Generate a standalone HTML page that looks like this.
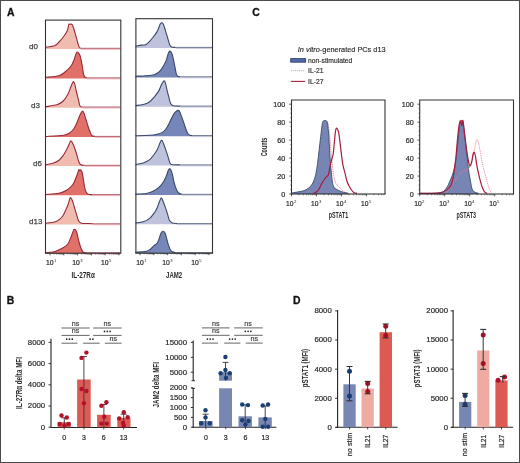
<!DOCTYPE html>
<html><head><meta charset="utf-8"><style>
html,body{margin:0;padding:0;background:#fff;}
svg{display:block;font-family:"Liberation Sans", sans-serif;will-change:transform;}
</style></head><body>
<svg width="520" height="463" viewBox="0 0 520 463">
<rect width="520" height="463" fill="#fff"/>
<text x="7" y="15.7" font-size="10.4" font-weight="bold" fill="#111" stroke="#111" stroke-width="0.3">A</text>
<text x="29" y="48.8" font-size="8" fill="#444" stroke="#444" stroke-width="0.25">d0</text>
<text x="31" y="107.7" font-size="8" fill="#444" stroke="#444" stroke-width="0.25">d3</text>
<text x="33" y="165.7" font-size="8" fill="#444" stroke="#444" stroke-width="0.25">d6</text>
<text x="29" y="224.3" font-size="8" fill="#444" stroke="#444" stroke-width="0.25">d13</text>
<path d="M45.5,47.25 C47,47 52.25,46.62 54.5,45.75 C56.75,44.87 57.5,43.5 59,42 C60.5,40.5 62.12,38.62 63.5,36.75 C64.87,34.87 66.37,32.75 67.25,30.75 C68.12,28.75 68.37,25.82 68.75,24.75 C69.12,23.67 69,24.37 69.5,24.3 C70,24.22 71.12,23.85 71.75,24.3 C72.37,24.75 72.62,25.3 73.25,27 C73.87,28.7 74.75,31.87 75.5,34.5 C76.25,37.12 77.12,40.62 77.75,42.75 C78.37,44.87 78.75,46.32 79.25,47.25 C79.75,48.17 80.5,48.12 80.75,48.3 L80.75,49 L45.5,49 Z" fill="#f0bcb0"/>
<line x1="80.75" y1="49.3" x2="120.5" y2="49.3" stroke="#f4b4c0" stroke-width="1"/>
<line x1="80.75" y1="48.3" x2="120.5" y2="48.3" stroke="#9a2a3a" stroke-width="1" stroke-opacity="0.75"/>
<path d="M45.5,47.25 C47,47 52.25,46.62 54.5,45.75 C56.75,44.87 57.5,43.5 59,42 C60.5,40.5 62.12,38.62 63.5,36.75 C64.87,34.87 66.37,32.75 67.25,30.75 C68.12,28.75 68.37,25.82 68.75,24.75 C69.12,23.67 69,24.37 69.5,24.3 C70,24.22 71.12,23.85 71.75,24.3 C72.37,24.75 72.62,25.3 73.25,27 C73.87,28.7 74.75,31.87 75.5,34.5 C76.25,37.12 77.12,40.62 77.75,42.75 C78.37,44.87 78.75,46.32 79.25,47.25 C79.75,48.17 80.5,48.12 80.75,48.3" fill="none" stroke="#9a2a3a" stroke-width="1.1" stroke-linejoin="round"/>
<path d="M45.5,77.25 C47.75,77 55.75,76.62 59,75.75 C62.25,74.87 63,73.62 65,72 C67,70.37 69.5,68 71,66 C72.5,64 73.12,62.12 74,60 C74.87,57.87 75.62,54.55 76.25,53.25 C76.87,51.95 77.12,51.82 77.75,52.2 C78.37,52.57 79.25,53.2 80,55.5 C80.75,57.8 81.62,62.75 82.25,66 C82.87,69.25 83.25,73.12 83.75,75 C84.25,76.87 84.75,76.76 85.25,77.25 C85.75,77.73 86.5,77.79 86.75,77.9 L86.75,78.6 L45.5,78.6 Z" fill="#e07068"/>
<line x1="86.75" y1="78.9" x2="120.5" y2="78.9" stroke="#f4b4c0" stroke-width="1"/>
<line x1="86.75" y1="77.9" x2="120.5" y2="77.9" stroke="#9a2a3a" stroke-width="1" stroke-opacity="0.75"/>
<path d="M45.5,77.25 C47.75,77 55.75,76.62 59,75.75 C62.25,74.87 63,73.62 65,72 C67,70.37 69.5,68 71,66 C72.5,64 73.12,62.12 74,60 C74.87,57.87 75.62,54.55 76.25,53.25 C76.87,51.95 77.12,51.82 77.75,52.2 C78.37,52.57 79.25,53.2 80,55.5 C80.75,57.8 81.62,62.75 82.25,66 C82.87,69.25 83.25,73.12 83.75,75 C84.25,76.87 84.75,76.76 85.25,77.25 C85.75,77.73 86.5,77.79 86.75,77.9" fill="none" stroke="#9a2a3a" stroke-width="1.1" stroke-linejoin="round"/>
<path d="M45.5,106.75 C47.5,106.37 54.5,105.5 57.5,104.5 C60.5,103.5 61.75,102.5 63.5,100.75 C65.25,99 66.75,96.37 68,94 C69.25,91.62 70.12,88.55 71,86.5 C71.87,84.45 72.62,82.07 73.25,81.7 C73.87,81.32 74.25,82.7 74.75,84.25 C75.25,85.8 75.62,88.37 76.25,91 C76.87,93.62 77.87,97.5 78.5,100 C79.12,102.5 79.37,104.83 80,106 C80.62,107.17 81.87,106.83 82.25,107 L82.25,107.7 L45.5,107.7 Z" fill="#f0bcb0"/>
<line x1="82.25" y1="108" x2="120.5" y2="108" stroke="#f4b4c0" stroke-width="1"/>
<line x1="82.25" y1="107" x2="120.5" y2="107" stroke="#9a2a3a" stroke-width="1" stroke-opacity="0.75"/>
<path d="M45.5,106.75 C47.5,106.37 54.5,105.5 57.5,104.5 C60.5,103.5 61.75,102.5 63.5,100.75 C65.25,99 66.75,96.37 68,94 C69.25,91.62 70.12,88.55 71,86.5 C71.87,84.45 72.62,82.07 73.25,81.7 C73.87,81.32 74.25,82.7 74.75,84.25 C75.25,85.8 75.62,88.37 76.25,91 C76.87,93.62 77.87,97.5 78.5,100 C79.12,102.5 79.37,104.83 80,106 C80.62,107.17 81.87,106.83 82.25,107" fill="none" stroke="#9a2a3a" stroke-width="1.1" stroke-linejoin="round"/>
<path d="M45.5,136.45 C48.5,136.25 59.5,135.82 63.5,135.25 C67.5,134.67 67.75,134.12 69.5,133 C71.25,131.87 72.75,130.25 74,128.5 C75.25,126.75 76,124.75 77,122.5 C78,120.25 79.12,116.87 80,115 C80.87,113.12 81.62,111.62 82.25,111.25 C82.87,110.87 83.12,111.37 83.75,112.75 C84.37,114.12 85.25,117.12 86,119.5 C86.75,121.87 87.5,124.75 88.25,127 C89,129.25 89.87,131.55 90.5,133 C91.12,134.45 91.25,135.13 92,135.7 C92.75,136.26 94.5,136.28 95,136.4 L95,137.1 L45.5,137.1 Z" fill="#e07068"/>
<line x1="95" y1="137.4" x2="120.5" y2="137.4" stroke="#f4b4c0" stroke-width="1"/>
<line x1="95" y1="136.4" x2="120.5" y2="136.4" stroke="#9a2a3a" stroke-width="1" stroke-opacity="0.75"/>
<path d="M45.5,136.45 C48.5,136.25 59.5,135.82 63.5,135.25 C67.5,134.67 67.75,134.12 69.5,133 C71.25,131.87 72.75,130.25 74,128.5 C75.25,126.75 76,124.75 77,122.5 C78,120.25 79.12,116.87 80,115 C80.87,113.12 81.62,111.62 82.25,111.25 C82.87,110.87 83.12,111.37 83.75,112.75 C84.37,114.12 85.25,117.12 86,119.5 C86.75,121.87 87.5,124.75 88.25,127 C89,129.25 89.87,131.55 90.5,133 C91.12,134.45 91.25,135.13 92,135.7 C92.75,136.26 94.5,136.28 95,136.4" fill="none" stroke="#9a2a3a" stroke-width="1.1" stroke-linejoin="round"/>
<path d="M45.5,164.75 C46.75,164.5 50.75,164 53,163.25 C55.25,162.5 57.25,161.62 59,160.25 C60.75,158.87 62.25,156.75 63.5,155 C64.75,153.25 65.62,151.37 66.5,149.75 C67.37,148.12 68.12,146.62 68.75,145.25 C69.37,143.87 69.82,142.17 70.25,141.5 C70.67,140.82 70.8,140.7 71.3,141.2 C71.8,141.7 72.55,142.95 73.25,144.5 C73.95,146.05 74.82,148.5 75.5,150.5 C76.17,152.5 76.75,154.62 77.3,156.5 C77.85,158.37 78.22,160.37 78.8,161.75 C79.37,163.12 79.8,164.16 80.75,164.75 C81.7,165.34 83.87,165.21 84.5,165.3 L84.5,166 L45.5,166 Z" fill="#f0bcb0"/>
<line x1="84.5" y1="166.3" x2="120.5" y2="166.3" stroke="#f4b4c0" stroke-width="1"/>
<line x1="84.5" y1="165.3" x2="120.5" y2="165.3" stroke="#9a2a3a" stroke-width="1" stroke-opacity="0.75"/>
<path d="M45.5,164.75 C46.75,164.5 50.75,164 53,163.25 C55.25,162.5 57.25,161.62 59,160.25 C60.75,158.87 62.25,156.75 63.5,155 C64.75,153.25 65.62,151.37 66.5,149.75 C67.37,148.12 68.12,146.62 68.75,145.25 C69.37,143.87 69.82,142.17 70.25,141.5 C70.67,140.82 70.8,140.7 71.3,141.2 C71.8,141.7 72.55,142.95 73.25,144.5 C73.95,146.05 74.82,148.5 75.5,150.5 C76.17,152.5 76.75,154.62 77.3,156.5 C77.85,158.37 78.22,160.37 78.8,161.75 C79.37,163.12 79.8,164.16 80.75,164.75 C81.7,165.34 83.87,165.21 84.5,165.3" fill="none" stroke="#9a2a3a" stroke-width="1.1" stroke-linejoin="round"/>
<path d="M45.5,194.45 C47.75,194.25 55.5,193.95 59,193.25 C62.5,192.55 64.25,191.62 66.5,190.25 C68.75,188.87 71,186.87 72.5,185 C74,183.12 74.62,181 75.5,179 C76.37,177 77.2,174.55 77.75,173 C78.3,171.45 78.47,170.07 78.8,169.7 C79.12,169.32 79.37,170.7 79.7,170.75 C80.02,170.8 80.32,169.62 80.75,170 C81.17,170.37 81.82,171.5 82.25,173 C82.67,174.5 82.92,176.75 83.3,179 C83.67,181.25 84.05,184.37 84.5,186.5 C84.95,188.62 85.37,190.45 86,191.75 C86.62,193.05 87.25,193.82 88.25,194.3 C89.25,194.77 91.37,194.55 92,194.6 L92,195.3 L45.5,195.3 Z" fill="#e07068"/>
<line x1="92" y1="195.6" x2="120.5" y2="195.6" stroke="#f4b4c0" stroke-width="1"/>
<line x1="92" y1="194.6" x2="120.5" y2="194.6" stroke="#9a2a3a" stroke-width="1" stroke-opacity="0.75"/>
<path d="M45.5,194.45 C47.75,194.25 55.5,193.95 59,193.25 C62.5,192.55 64.25,191.62 66.5,190.25 C68.75,188.87 71,186.87 72.5,185 C74,183.12 74.62,181 75.5,179 C76.37,177 77.2,174.55 77.75,173 C78.3,171.45 78.47,170.07 78.8,169.7 C79.12,169.32 79.37,170.7 79.7,170.75 C80.02,170.8 80.32,169.62 80.75,170 C81.17,170.37 81.82,171.5 82.25,173 C82.67,174.5 82.92,176.75 83.3,179 C83.67,181.25 84.05,184.37 84.5,186.5 C84.95,188.62 85.37,190.45 86,191.75 C86.62,193.05 87.25,193.82 88.25,194.3 C89.25,194.77 91.37,194.55 92,194.6" fill="none" stroke="#9a2a3a" stroke-width="1.1" stroke-linejoin="round"/>
<path d="M45.5,223.2 C47,223 52.25,222.57 54.5,222 C56.75,221.42 57.62,220.75 59,219.75 C60.37,218.75 61.62,217.62 62.75,216 C63.87,214.37 64.87,211.87 65.75,210 C66.62,208.12 67.32,206.62 68,204.75 C68.67,202.87 69.35,199.92 69.8,198.75 C70.25,197.57 70.25,197.32 70.7,197.7 C71.15,198.07 71.82,199.2 72.5,201 C73.17,202.8 74,206 74.75,208.5 C75.5,211 76.32,213.87 77,216 C77.67,218.12 78.05,220.05 78.8,221.25 C79.55,222.45 79.8,222.82 81.5,223.2 C83.2,223.57 87,223.4 89,223.5 C91,223.6 92.75,223.75 93.5,223.8 L93.5,224.5 L45.5,224.5 Z" fill="#f0bcb0"/>
<line x1="93.5" y1="224.8" x2="120.5" y2="224.8" stroke="#f4b4c0" stroke-width="1"/>
<line x1="93.5" y1="223.8" x2="120.5" y2="223.8" stroke="#9a2a3a" stroke-width="1" stroke-opacity="0.75"/>
<path d="M45.5,223.2 C47,223 52.25,222.57 54.5,222 C56.75,221.42 57.62,220.75 59,219.75 C60.37,218.75 61.62,217.62 62.75,216 C63.87,214.37 64.87,211.87 65.75,210 C66.62,208.12 67.32,206.62 68,204.75 C68.67,202.87 69.35,199.92 69.8,198.75 C70.25,197.57 70.25,197.32 70.7,197.7 C71.15,198.07 71.82,199.2 72.5,201 C73.17,202.8 74,206 74.75,208.5 C75.5,211 76.32,213.87 77,216 C77.67,218.12 78.05,220.05 78.8,221.25 C79.55,222.45 79.8,222.82 81.5,223.2 C83.2,223.57 87,223.4 89,223.5 C91,223.6 92.75,223.75 93.5,223.8" fill="none" stroke="#9a2a3a" stroke-width="1.1" stroke-linejoin="round"/>
<path d="M45.5,252.75 C46.75,252.62 50.75,252.5 53,252 C55.25,251.5 57.25,250.5 59,249.75 C60.75,249 62,248.5 63.5,247.5 C65,246.5 66.75,245.5 68,243.75 C69.25,242 70.12,239.12 71,237 C71.87,234.87 72.75,232.25 73.25,231 C73.75,229.75 73.62,229.7 74,229.5 C74.37,229.3 75,229.17 75.5,229.8 C76,230.42 76.5,231.55 77,233.25 C77.5,234.95 77.87,237.62 78.5,240 C79.12,242.37 80,245.5 80.75,247.5 C81.5,249.5 82.12,251.11 83,252 C83.87,252.88 85.5,252.67 86,252.8 L86,253.5 L45.5,253.5 Z" fill="#e07068"/>
<line x1="86" y1="253.8" x2="120.5" y2="253.8" stroke="#f4b4c0" stroke-width="1"/>
<line x1="86" y1="252.8" x2="120.5" y2="252.8" stroke="#9a2a3a" stroke-width="1" stroke-opacity="0.75"/>
<path d="M45.5,252.75 C46.75,252.62 50.75,252.5 53,252 C55.25,251.5 57.25,250.5 59,249.75 C60.75,249 62,248.5 63.5,247.5 C65,246.5 66.75,245.5 68,243.75 C69.25,242 70.12,239.12 71,237 C71.87,234.87 72.75,232.25 73.25,231 C73.75,229.75 73.62,229.7 74,229.5 C74.37,229.3 75,229.17 75.5,229.8 C76,230.42 76.5,231.55 77,233.25 C77.5,234.95 77.87,237.62 78.5,240 C79.12,242.37 80,245.5 80.75,247.5 C81.5,249.5 82.12,251.11 83,252 C83.87,252.88 85.5,252.67 86,252.8" fill="none" stroke="#9a2a3a" stroke-width="1.1" stroke-linejoin="round"/>
<path d="M135.5,46.23 C136.53,46.05 140.02,45.41 141.69,45.15 C143.37,44.9 144.26,45.28 145.54,44.69 C146.82,44.1 148.1,42.9 149.38,41.62 C150.67,40.33 151.95,38.67 153.23,37 C154.51,35.33 156.05,33.41 157.08,31.62 C158.1,29.82 158.82,27.59 159.38,26.23 C159.95,24.87 160.03,24.03 160.46,23.46 C160.9,22.9 161.49,22.64 162,22.85 C162.51,23.05 162.95,23.36 163.54,24.69 C164.13,26.03 164.82,28.54 165.54,30.85 C166.26,33.15 167.15,36.23 167.85,38.54 C168.54,40.85 169.05,43.28 169.69,44.69 C170.33,46.1 170.72,46.55 171.69,47 C172.67,47.45 174.9,47.33 175.54,47.4 L175.54,48.1 L135.5,48.1 Z" fill="#bfc2dc"/>
<line x1="175.54" y1="48.4" x2="212.5" y2="48.4" stroke="#c8cce0" stroke-width="1"/>
<line x1="175.54" y1="47.4" x2="212.5" y2="47.4" stroke="#3a4868" stroke-width="1" stroke-opacity="0.75"/>
<path d="M135.5,46.23 C136.53,46.05 140.02,45.41 141.69,45.15 C143.37,44.9 144.26,45.28 145.54,44.69 C146.82,44.1 148.1,42.9 149.38,41.62 C150.67,40.33 151.95,38.67 153.23,37 C154.51,35.33 156.05,33.41 157.08,31.62 C158.1,29.82 158.82,27.59 159.38,26.23 C159.95,24.87 160.03,24.03 160.46,23.46 C160.9,22.9 161.49,22.64 162,22.85 C162.51,23.05 162.95,23.36 163.54,24.69 C164.13,26.03 164.82,28.54 165.54,30.85 C166.26,33.15 167.15,36.23 167.85,38.54 C168.54,40.85 169.05,43.28 169.69,44.69 C170.33,46.1 170.72,46.55 171.69,47 C172.67,47.45 174.9,47.33 175.54,47.4" fill="none" stroke="#3a4868" stroke-width="1.1" stroke-linejoin="round"/>
<path d="M135.5,76.23 C137.3,76.15 143.22,76.03 146.31,75.77 C149.39,75.51 151.82,75.38 154,74.69 C156.18,74 157.85,73.03 159.38,71.62 C160.92,70.21 162.08,68.15 163.23,66.23 C164.38,64.31 165.49,62.13 166.31,60.08 C167.13,58.03 167.59,55.41 168.15,53.92 C168.72,52.44 169.1,51.28 169.69,51.15 C170.28,51.03 171.1,51.92 171.69,53.15 C172.28,54.38 172.72,56.36 173.23,58.54 C173.74,60.72 174.26,63.67 174.77,66.23 C175.28,68.79 175.79,72.26 176.31,73.92 C176.82,75.59 177.21,75.75 177.85,76.23 C178.49,76.71 179.77,76.71 180.15,76.8 L180.15,77.5 L135.5,77.5 Z" fill="#7686b8"/>
<line x1="180.15" y1="77.8" x2="212.5" y2="77.8" stroke="#c8cce0" stroke-width="1"/>
<line x1="180.15" y1="76.8" x2="212.5" y2="76.8" stroke="#3a4868" stroke-width="1" stroke-opacity="0.75"/>
<path d="M135.5,76.23 C137.3,76.15 143.22,76.03 146.31,75.77 C149.39,75.51 151.82,75.38 154,74.69 C156.18,74 157.85,73.03 159.38,71.62 C160.92,70.21 162.08,68.15 163.23,66.23 C164.38,64.31 165.49,62.13 166.31,60.08 C167.13,58.03 167.59,55.41 168.15,53.92 C168.72,52.44 169.1,51.28 169.69,51.15 C170.28,51.03 171.1,51.92 171.69,53.15 C172.28,54.38 172.72,56.36 173.23,58.54 C173.74,60.72 174.26,63.67 174.77,66.23 C175.28,68.79 175.79,72.26 176.31,73.92 C176.82,75.59 177.21,75.75 177.85,76.23 C178.49,76.71 179.77,76.71 180.15,76.8" fill="none" stroke="#3a4868" stroke-width="1.1" stroke-linejoin="round"/>
<path d="M135.5,105.46 C136.79,105.31 140.92,105.13 143.23,104.54 C145.54,103.95 147.59,103.13 149.38,101.92 C151.18,100.72 152.46,99.1 154,97.31 C155.54,95.51 157.33,93.33 158.62,91.15 C159.9,88.97 160.77,85.95 161.69,84.23 C162.62,82.51 163.51,80.97 164.15,80.85 C164.79,80.72 165.05,81.87 165.54,83.46 C166.03,85.05 166.49,87.95 167.08,90.38 C167.67,92.82 168.49,95.9 169.08,98.08 C169.67,100.26 169.92,102.18 170.62,103.46 C171.31,104.74 171.64,105.33 173.23,105.77 C174.82,106.21 179,106.04 180.15,106.1 L180.15,106.8 L135.5,106.8 Z" fill="#bfc2dc"/>
<line x1="180.15" y1="107.1" x2="212.5" y2="107.1" stroke="#c8cce0" stroke-width="1"/>
<line x1="180.15" y1="106.1" x2="212.5" y2="106.1" stroke="#3a4868" stroke-width="1" stroke-opacity="0.75"/>
<path d="M135.5,105.46 C136.79,105.31 140.92,105.13 143.23,104.54 C145.54,103.95 147.59,103.13 149.38,101.92 C151.18,100.72 152.46,99.1 154,97.31 C155.54,95.51 157.33,93.33 158.62,91.15 C159.9,88.97 160.77,85.95 161.69,84.23 C162.62,82.51 163.51,80.97 164.15,80.85 C164.79,80.72 165.05,81.87 165.54,83.46 C166.03,85.05 166.49,87.95 167.08,90.38 C167.67,92.82 168.49,95.9 169.08,98.08 C169.67,100.26 169.92,102.18 170.62,103.46 C171.31,104.74 171.64,105.33 173.23,105.77 C174.82,106.21 179,106.04 180.15,106.1" fill="none" stroke="#3a4868" stroke-width="1.1" stroke-linejoin="round"/>
<path d="M135.5,135.77 C137.81,135.69 145.79,135.56 149.38,135.31 C152.98,135.05 154.77,134.79 157.08,134.23 C159.38,133.67 161.56,133.08 163.23,131.92 C164.9,130.77 165.79,129.36 167.08,127.31 C168.36,125.26 169.82,121.79 170.92,119.62 C172.03,117.44 172.92,115.51 173.69,114.23 C174.46,112.95 174.85,112.56 175.54,111.92 C176.23,111.28 177.21,110.51 177.85,110.38 C178.49,110.26 178.87,110.38 179.38,111.15 C179.9,111.92 180.28,113.33 180.92,115 C181.56,116.67 182.46,118.97 183.23,121.15 C184,123.33 184.77,126.03 185.54,128.08 C186.31,130.13 187.08,132.26 187.85,133.46 C188.62,134.67 189.38,134.95 190.15,135.31 C190.92,135.66 192.08,135.55 192.46,135.6 L192.46,136.3 L135.5,136.3 Z" fill="#7686b8"/>
<line x1="192.46" y1="136.6" x2="212.5" y2="136.6" stroke="#c8cce0" stroke-width="1"/>
<line x1="192.46" y1="135.6" x2="212.5" y2="135.6" stroke="#3a4868" stroke-width="1" stroke-opacity="0.75"/>
<path d="M135.5,135.77 C137.81,135.69 145.79,135.56 149.38,135.31 C152.98,135.05 154.77,134.79 157.08,134.23 C159.38,133.67 161.56,133.08 163.23,131.92 C164.9,130.77 165.79,129.36 167.08,127.31 C168.36,125.26 169.82,121.79 170.92,119.62 C172.03,117.44 172.92,115.51 173.69,114.23 C174.46,112.95 174.85,112.56 175.54,111.92 C176.23,111.28 177.21,110.51 177.85,110.38 C178.49,110.26 178.87,110.38 179.38,111.15 C179.9,111.92 180.28,113.33 180.92,115 C181.56,116.67 182.46,118.97 183.23,121.15 C184,123.33 184.77,126.03 185.54,128.08 C186.31,130.13 187.08,132.26 187.85,133.46 C188.62,134.67 189.38,134.95 190.15,135.31 C190.92,135.66 192.08,135.55 192.46,135.6" fill="none" stroke="#3a4868" stroke-width="1.1" stroke-linejoin="round"/>
<path d="M135.5,164.54 C136.79,164.28 140.92,163.77 143.23,163 C145.54,162.23 147.59,161.33 149.38,159.92 C151.18,158.51 152.72,156.21 154,154.54 C155.28,152.87 156.18,151.59 157.08,149.92 C157.97,148.26 158.79,145.95 159.38,144.54 C159.97,143.13 160.18,142.15 160.62,141.46 C161.05,140.77 161.51,140 162,140.38 C162.49,140.77 162.95,142.31 163.54,143.77 C164.13,145.23 164.82,147.1 165.54,149.15 C166.26,151.21 167.15,153.9 167.85,156.08 C168.54,158.26 169.05,160.82 169.69,162.23 C170.33,163.64 169.95,164.09 171.69,164.54 C173.44,164.98 178.74,164.84 180.15,164.9 L180.15,165.6 L135.5,165.6 Z" fill="#bfc2dc"/>
<line x1="180.15" y1="165.9" x2="212.5" y2="165.9" stroke="#c8cce0" stroke-width="1"/>
<line x1="180.15" y1="164.9" x2="212.5" y2="164.9" stroke="#3a4868" stroke-width="1" stroke-opacity="0.75"/>
<path d="M135.5,164.54 C136.79,164.28 140.92,163.77 143.23,163 C145.54,162.23 147.59,161.33 149.38,159.92 C151.18,158.51 152.72,156.21 154,154.54 C155.28,152.87 156.18,151.59 157.08,149.92 C157.97,148.26 158.79,145.95 159.38,144.54 C159.97,143.13 160.18,142.15 160.62,141.46 C161.05,140.77 161.51,140 162,140.38 C162.49,140.77 162.95,142.31 163.54,143.77 C164.13,145.23 164.82,147.1 165.54,149.15 C166.26,151.21 167.15,153.9 167.85,156.08 C168.54,158.26 169.05,160.82 169.69,162.23 C170.33,163.64 169.95,164.09 171.69,164.54 C173.44,164.98 178.74,164.84 180.15,164.9" fill="none" stroke="#3a4868" stroke-width="1.1" stroke-linejoin="round"/>
<path d="M135.5,194.08 C137.3,193.97 143.48,193.9 146.31,193.46 C149.13,193.03 150.41,192.44 152.46,191.46 C154.51,190.49 156.82,189.15 158.62,187.62 C160.41,186.08 161.95,184.15 163.23,182.23 C164.51,180.31 165.49,178 166.31,176.08 C167.13,174.15 167.64,171.92 168.15,170.69 C168.67,169.46 168.92,168.82 169.38,168.69 C169.85,168.56 170.41,168.95 170.92,169.92 C171.44,170.9 171.95,172.49 172.46,174.54 C172.97,176.59 173.36,179.79 174,182.23 C174.64,184.67 175.54,187.36 176.31,189.15 C177.08,190.95 177.72,192.14 178.62,193 C179.51,193.86 181.18,194.08 181.69,194.3 L181.69,195 L135.5,195 Z" fill="#7686b8"/>
<line x1="181.69" y1="195.3" x2="212.5" y2="195.3" stroke="#c8cce0" stroke-width="1"/>
<line x1="181.69" y1="194.3" x2="212.5" y2="194.3" stroke="#3a4868" stroke-width="1" stroke-opacity="0.75"/>
<path d="M135.5,194.08 C137.3,193.97 143.48,193.9 146.31,193.46 C149.13,193.03 150.41,192.44 152.46,191.46 C154.51,190.49 156.82,189.15 158.62,187.62 C160.41,186.08 161.95,184.15 163.23,182.23 C164.51,180.31 165.49,178 166.31,176.08 C167.13,174.15 167.64,171.92 168.15,170.69 C168.67,169.46 168.92,168.82 169.38,168.69 C169.85,168.56 170.41,168.95 170.92,169.92 C171.44,170.9 171.95,172.49 172.46,174.54 C172.97,176.59 173.36,179.79 174,182.23 C174.64,184.67 175.54,187.36 176.31,189.15 C177.08,190.95 177.72,192.14 178.62,193 C179.51,193.86 181.18,194.08 181.69,194.3" fill="none" stroke="#3a4868" stroke-width="1.1" stroke-linejoin="round"/>
<path d="M135.5,223 C136.79,222.79 140.92,222.49 143.23,221.77 C145.54,221.05 147.59,220.1 149.38,218.69 C151.18,217.28 152.72,215.1 154,213.31 C155.28,211.51 156.18,209.85 157.08,207.92 C157.97,206 158.67,203.44 159.38,201.77 C160.1,200.1 160.74,197.92 161.38,197.92 C162.03,197.92 162.54,200.1 163.23,201.77 C163.92,203.44 164.82,205.87 165.54,207.92 C166.26,209.97 166.9,212.03 167.54,214.08 C168.18,216.13 168.56,218.74 169.38,220.23 C170.21,221.72 171.18,222.44 172.46,223 C173.74,223.56 176.31,223.5 177.08,223.6 L177.08,224.3 L135.5,224.3 Z" fill="#bfc2dc"/>
<line x1="177.08" y1="224.6" x2="212.5" y2="224.6" stroke="#c8cce0" stroke-width="1"/>
<line x1="177.08" y1="223.6" x2="212.5" y2="223.6" stroke="#3a4868" stroke-width="1" stroke-opacity="0.75"/>
<path d="M135.5,223 C136.79,222.79 140.92,222.49 143.23,221.77 C145.54,221.05 147.59,220.1 149.38,218.69 C151.18,217.28 152.72,215.1 154,213.31 C155.28,211.51 156.18,209.85 157.08,207.92 C157.97,206 158.67,203.44 159.38,201.77 C160.1,200.1 160.74,197.92 161.38,197.92 C162.03,197.92 162.54,200.1 163.23,201.77 C163.92,203.44 164.82,205.87 165.54,207.92 C166.26,209.97 166.9,212.03 167.54,214.08 C168.18,216.13 168.56,218.74 169.38,220.23 C170.21,221.72 171.18,222.44 172.46,223 C173.74,223.56 176.31,223.5 177.08,223.6" fill="none" stroke="#3a4868" stroke-width="1.1" stroke-linejoin="round"/>
<path d="M135.5,252.23 C137.3,252.08 143.74,251.9 146.31,251.31 C148.88,250.72 149.64,249.64 150.92,248.69 C152.21,247.74 152.97,246.51 154,245.62 C155.03,244.72 156.18,244.59 157.08,243.31 C157.97,242.03 158.74,239.59 159.38,237.92 C160.03,236.26 160.33,234.41 160.92,233.31 C161.51,232.21 162.28,231.44 162.92,231.31 C163.56,231.18 164.21,231.56 164.77,232.54 C165.33,233.51 165.74,235.23 166.31,237.15 C166.87,239.08 167.51,242.03 168.15,244.08 C168.79,246.13 169.44,248.18 170.15,249.46 C170.87,250.74 171.56,251.25 172.46,251.77 C173.36,252.29 175.03,252.46 175.54,252.6 L175.54,253.3 L135.5,253.3 Z" fill="#7686b8"/>
<line x1="175.54" y1="253.6" x2="212.5" y2="253.6" stroke="#c8cce0" stroke-width="1"/>
<line x1="175.54" y1="252.6" x2="212.5" y2="252.6" stroke="#3a4868" stroke-width="1" stroke-opacity="0.75"/>
<path d="M135.5,252.23 C137.3,252.08 143.74,251.9 146.31,251.31 C148.88,250.72 149.64,249.64 150.92,248.69 C152.21,247.74 152.97,246.51 154,245.62 C155.03,244.72 156.18,244.59 157.08,243.31 C157.97,242.03 158.74,239.59 159.38,237.92 C160.03,236.26 160.33,234.41 160.92,233.31 C161.51,232.21 162.28,231.44 162.92,231.31 C163.56,231.18 164.21,231.56 164.77,232.54 C165.33,233.51 165.74,235.23 166.31,237.15 C166.87,239.08 167.51,242.03 168.15,244.08 C168.79,246.13 169.44,248.18 170.15,249.46 C170.87,250.74 171.56,251.25 172.46,251.77 C173.36,252.29 175.03,252.46 175.54,252.6" fill="none" stroke="#3a4868" stroke-width="1.1" stroke-linejoin="round"/>
<rect x="45.5" y="20.1" width="75.3" height="233.1" fill="none" stroke="#333" stroke-width="1.1"/>
<rect x="135.9" y="18.7" width="76.6" height="234.5" fill="none" stroke="#333" stroke-width="1.1"/>
<line x1="50" y1="253.2" x2="50" y2="255.4" stroke="#333" stroke-width="0.8"/>
<line x1="54.15" y1="253.2" x2="54.15" y2="254.5" stroke="#333" stroke-width="0.6"/>
<line x1="56.58" y1="253.2" x2="56.58" y2="254.5" stroke="#333" stroke-width="0.6"/>
<line x1="58.31" y1="253.2" x2="58.31" y2="254.5" stroke="#333" stroke-width="0.6"/>
<line x1="59.65" y1="253.2" x2="59.65" y2="254.5" stroke="#333" stroke-width="0.6"/>
<line x1="60.74" y1="253.2" x2="60.74" y2="254.5" stroke="#333" stroke-width="0.6"/>
<line x1="61.66" y1="253.2" x2="61.66" y2="254.5" stroke="#333" stroke-width="0.6"/>
<line x1="62.46" y1="253.2" x2="62.46" y2="254.5" stroke="#333" stroke-width="0.6"/>
<line x1="63.17" y1="253.2" x2="63.17" y2="254.5" stroke="#333" stroke-width="0.6"/>
<line x1="63.8" y1="253.2" x2="63.8" y2="255.4" stroke="#333" stroke-width="0.8"/>
<line x1="67.95" y1="253.2" x2="67.95" y2="254.5" stroke="#333" stroke-width="0.6"/>
<line x1="70.38" y1="253.2" x2="70.38" y2="254.5" stroke="#333" stroke-width="0.6"/>
<line x1="72.11" y1="253.2" x2="72.11" y2="254.5" stroke="#333" stroke-width="0.6"/>
<line x1="73.45" y1="253.2" x2="73.45" y2="254.5" stroke="#333" stroke-width="0.6"/>
<line x1="74.54" y1="253.2" x2="74.54" y2="254.5" stroke="#333" stroke-width="0.6"/>
<line x1="75.46" y1="253.2" x2="75.46" y2="254.5" stroke="#333" stroke-width="0.6"/>
<line x1="76.26" y1="253.2" x2="76.26" y2="254.5" stroke="#333" stroke-width="0.6"/>
<line x1="76.97" y1="253.2" x2="76.97" y2="254.5" stroke="#333" stroke-width="0.6"/>
<line x1="77.6" y1="253.2" x2="77.6" y2="255.4" stroke="#333" stroke-width="0.8"/>
<line x1="81.75" y1="253.2" x2="81.75" y2="254.5" stroke="#333" stroke-width="0.6"/>
<line x1="84.18" y1="253.2" x2="84.18" y2="254.5" stroke="#333" stroke-width="0.6"/>
<line x1="85.91" y1="253.2" x2="85.91" y2="254.5" stroke="#333" stroke-width="0.6"/>
<line x1="87.25" y1="253.2" x2="87.25" y2="254.5" stroke="#333" stroke-width="0.6"/>
<line x1="88.34" y1="253.2" x2="88.34" y2="254.5" stroke="#333" stroke-width="0.6"/>
<line x1="89.26" y1="253.2" x2="89.26" y2="254.5" stroke="#333" stroke-width="0.6"/>
<line x1="90.06" y1="253.2" x2="90.06" y2="254.5" stroke="#333" stroke-width="0.6"/>
<line x1="90.77" y1="253.2" x2="90.77" y2="254.5" stroke="#333" stroke-width="0.6"/>
<line x1="91.4" y1="253.2" x2="91.4" y2="255.4" stroke="#333" stroke-width="0.8"/>
<line x1="95.55" y1="253.2" x2="95.55" y2="254.5" stroke="#333" stroke-width="0.6"/>
<line x1="97.98" y1="253.2" x2="97.98" y2="254.5" stroke="#333" stroke-width="0.6"/>
<line x1="99.71" y1="253.2" x2="99.71" y2="254.5" stroke="#333" stroke-width="0.6"/>
<line x1="101.05" y1="253.2" x2="101.05" y2="254.5" stroke="#333" stroke-width="0.6"/>
<line x1="102.14" y1="253.2" x2="102.14" y2="254.5" stroke="#333" stroke-width="0.6"/>
<line x1="103.06" y1="253.2" x2="103.06" y2="254.5" stroke="#333" stroke-width="0.6"/>
<line x1="103.86" y1="253.2" x2="103.86" y2="254.5" stroke="#333" stroke-width="0.6"/>
<line x1="104.57" y1="253.2" x2="104.57" y2="254.5" stroke="#333" stroke-width="0.6"/>
<line x1="105.2" y1="253.2" x2="105.2" y2="255.4" stroke="#333" stroke-width="0.8"/>
<line x1="109.35" y1="253.2" x2="109.35" y2="254.5" stroke="#333" stroke-width="0.6"/>
<line x1="111.78" y1="253.2" x2="111.78" y2="254.5" stroke="#333" stroke-width="0.6"/>
<line x1="113.51" y1="253.2" x2="113.51" y2="254.5" stroke="#333" stroke-width="0.6"/>
<line x1="114.85" y1="253.2" x2="114.85" y2="254.5" stroke="#333" stroke-width="0.6"/>
<line x1="115.94" y1="253.2" x2="115.94" y2="254.5" stroke="#333" stroke-width="0.6"/>
<line x1="116.86" y1="253.2" x2="116.86" y2="254.5" stroke="#333" stroke-width="0.6"/>
<line x1="117.66" y1="253.2" x2="117.66" y2="254.5" stroke="#333" stroke-width="0.6"/>
<line x1="118.37" y1="253.2" x2="118.37" y2="254.5" stroke="#333" stroke-width="0.6"/>
<line x1="119" y1="253.2" x2="119" y2="255.4" stroke="#333" stroke-width="0.8"/>
<text x="46" y="264.9" font-size="6.8" fill="#2a2a2a" stroke="#2a2a2a" stroke-width="0.2">10</text>
<text x="54" y="261.6" font-size="4.22" fill="#2a2a2a">1</text>
<text x="72.2" y="264.9" font-size="6.8" fill="#2a2a2a" stroke="#2a2a2a" stroke-width="0.2">10</text>
<text x="80.2" y="261.6" font-size="4.22" fill="#2a2a2a">3</text>
<text x="100.9" y="264.9" font-size="6.8" fill="#2a2a2a" stroke="#2a2a2a" stroke-width="0.2">10</text>
<text x="108.9" y="261.6" font-size="4.22" fill="#2a2a2a">5</text>
<line x1="140" y1="253" x2="140" y2="255.2" stroke="#333" stroke-width="0.8"/>
<line x1="144.15" y1="253" x2="144.15" y2="254.3" stroke="#333" stroke-width="0.6"/>
<line x1="146.58" y1="253" x2="146.58" y2="254.3" stroke="#333" stroke-width="0.6"/>
<line x1="148.31" y1="253" x2="148.31" y2="254.3" stroke="#333" stroke-width="0.6"/>
<line x1="149.65" y1="253" x2="149.65" y2="254.3" stroke="#333" stroke-width="0.6"/>
<line x1="150.74" y1="253" x2="150.74" y2="254.3" stroke="#333" stroke-width="0.6"/>
<line x1="151.66" y1="253" x2="151.66" y2="254.3" stroke="#333" stroke-width="0.6"/>
<line x1="152.46" y1="253" x2="152.46" y2="254.3" stroke="#333" stroke-width="0.6"/>
<line x1="153.17" y1="253" x2="153.17" y2="254.3" stroke="#333" stroke-width="0.6"/>
<line x1="153.8" y1="253" x2="153.8" y2="255.2" stroke="#333" stroke-width="0.8"/>
<line x1="157.95" y1="253" x2="157.95" y2="254.3" stroke="#333" stroke-width="0.6"/>
<line x1="160.38" y1="253" x2="160.38" y2="254.3" stroke="#333" stroke-width="0.6"/>
<line x1="162.11" y1="253" x2="162.11" y2="254.3" stroke="#333" stroke-width="0.6"/>
<line x1="163.45" y1="253" x2="163.45" y2="254.3" stroke="#333" stroke-width="0.6"/>
<line x1="164.54" y1="253" x2="164.54" y2="254.3" stroke="#333" stroke-width="0.6"/>
<line x1="165.46" y1="253" x2="165.46" y2="254.3" stroke="#333" stroke-width="0.6"/>
<line x1="166.26" y1="253" x2="166.26" y2="254.3" stroke="#333" stroke-width="0.6"/>
<line x1="166.97" y1="253" x2="166.97" y2="254.3" stroke="#333" stroke-width="0.6"/>
<line x1="167.6" y1="253" x2="167.6" y2="255.2" stroke="#333" stroke-width="0.8"/>
<line x1="171.75" y1="253" x2="171.75" y2="254.3" stroke="#333" stroke-width="0.6"/>
<line x1="174.18" y1="253" x2="174.18" y2="254.3" stroke="#333" stroke-width="0.6"/>
<line x1="175.91" y1="253" x2="175.91" y2="254.3" stroke="#333" stroke-width="0.6"/>
<line x1="177.25" y1="253" x2="177.25" y2="254.3" stroke="#333" stroke-width="0.6"/>
<line x1="178.34" y1="253" x2="178.34" y2="254.3" stroke="#333" stroke-width="0.6"/>
<line x1="179.26" y1="253" x2="179.26" y2="254.3" stroke="#333" stroke-width="0.6"/>
<line x1="180.06" y1="253" x2="180.06" y2="254.3" stroke="#333" stroke-width="0.6"/>
<line x1="180.77" y1="253" x2="180.77" y2="254.3" stroke="#333" stroke-width="0.6"/>
<line x1="181.4" y1="253" x2="181.4" y2="255.2" stroke="#333" stroke-width="0.8"/>
<line x1="185.55" y1="253" x2="185.55" y2="254.3" stroke="#333" stroke-width="0.6"/>
<line x1="187.98" y1="253" x2="187.98" y2="254.3" stroke="#333" stroke-width="0.6"/>
<line x1="189.71" y1="253" x2="189.71" y2="254.3" stroke="#333" stroke-width="0.6"/>
<line x1="191.05" y1="253" x2="191.05" y2="254.3" stroke="#333" stroke-width="0.6"/>
<line x1="192.14" y1="253" x2="192.14" y2="254.3" stroke="#333" stroke-width="0.6"/>
<line x1="193.06" y1="253" x2="193.06" y2="254.3" stroke="#333" stroke-width="0.6"/>
<line x1="193.86" y1="253" x2="193.86" y2="254.3" stroke="#333" stroke-width="0.6"/>
<line x1="194.57" y1="253" x2="194.57" y2="254.3" stroke="#333" stroke-width="0.6"/>
<line x1="195.2" y1="253" x2="195.2" y2="255.2" stroke="#333" stroke-width="0.8"/>
<line x1="199.35" y1="253" x2="199.35" y2="254.3" stroke="#333" stroke-width="0.6"/>
<line x1="201.78" y1="253" x2="201.78" y2="254.3" stroke="#333" stroke-width="0.6"/>
<line x1="203.51" y1="253" x2="203.51" y2="254.3" stroke="#333" stroke-width="0.6"/>
<line x1="204.85" y1="253" x2="204.85" y2="254.3" stroke="#333" stroke-width="0.6"/>
<line x1="205.94" y1="253" x2="205.94" y2="254.3" stroke="#333" stroke-width="0.6"/>
<line x1="206.86" y1="253" x2="206.86" y2="254.3" stroke="#333" stroke-width="0.6"/>
<line x1="207.66" y1="253" x2="207.66" y2="254.3" stroke="#333" stroke-width="0.6"/>
<line x1="208.37" y1="253" x2="208.37" y2="254.3" stroke="#333" stroke-width="0.6"/>
<line x1="209" y1="253" x2="209" y2="255.2" stroke="#333" stroke-width="0.8"/>
<text x="136.3" y="264.9" font-size="6.8" fill="#2a2a2a" stroke="#2a2a2a" stroke-width="0.2">10</text>
<text x="144.3" y="261.6" font-size="4.22" fill="#2a2a2a">1</text>
<text x="162.2" y="264.9" font-size="6.8" fill="#2a2a2a" stroke="#2a2a2a" stroke-width="0.2">10</text>
<text x="170.2" y="261.6" font-size="4.22" fill="#2a2a2a">3</text>
<text x="191.3" y="264.9" font-size="6.8" fill="#2a2a2a" stroke="#2a2a2a" stroke-width="0.2">10</text>
<text x="199.3" y="261.6" font-size="4.22" fill="#2a2a2a">5</text>
<text x="71.6" y="277.8" font-size="8.6" font-weight="bold" fill="#2a2a2a" textLength="23.2" lengthAdjust="spacingAndGlyphs">IL-27Rα</text>
<text x="166.1" y="277.6" font-size="8.6" font-weight="bold" fill="#2a2a2a" textLength="16.1" lengthAdjust="spacingAndGlyphs">JAM2</text>
<text x="252.3" y="15.7" font-size="10.4" font-weight="bold" fill="#111" stroke="#111" stroke-width="0.3">C</text>
<text x="297.8" y="51.6" font-size="7.35" font-style="italic" fill="#2a2a2a" stroke="#2a2a2a" stroke-width="0.15">In vitro</text>
<text x="319.86" y="51.6" font-size="7.35" fill="#2a2a2a" stroke="#2a2a2a" stroke-width="0.15">-generated PCs d13</text>
<rect x="290.7" y="58.6" width="15" height="3.6" fill="#4f6aa8" stroke="#2a3d70" stroke-width="0.8"/>
<text x="308.1" y="62.6" font-size="6.75" fill="#2a2a2a" stroke="#2a2a2a" stroke-width="0.15">non-stimulated</text>
<line x1="290.8" y1="70.7" x2="305.2" y2="70.7" stroke="#e8909a" stroke-width="1" stroke-dasharray="1,1"/>
<text x="308.1" y="73.2" font-size="6.75" fill="#2a2a2a" stroke="#2a2a2a" stroke-width="0.15">IL-21</text>
<line x1="290.8" y1="81.4" x2="305.2" y2="81.4" stroke="#a8203c" stroke-width="1.1"/>
<text x="308.1" y="84" font-size="6.75" fill="#2a2a2a" stroke="#2a2a2a" stroke-width="0.15">IL-27</text>
<path d="M302.96,191.79 C304.04,191.07 307.64,189.09 309.44,187.47 C311.24,185.85 312.5,184.41 313.76,182.07 C315.02,179.73 316.1,177.39 317,173.43 C317.9,169.47 318.44,164.43 319.16,158.32 C319.88,152.2 320.6,142.48 321.32,136.72 C322.04,130.96 322.76,126.46 323.48,123.76 C324.2,121.06 324.92,120.7 325.64,120.52 C326.36,120.34 327.19,120.7 327.8,122.68 C328.41,124.66 328.84,128.26 329.31,132.4 C329.78,136.54 330.14,142.48 330.6,147.52 C331.07,152.56 331.61,157.96 332.12,162.63 C332.62,167.31 333.02,172.17 333.63,175.59 C334.24,179.01 334.96,181.35 335.79,183.15 C336.62,184.95 337.59,185.31 338.6,186.39 C339.6,187.47 340.76,188.62 341.84,189.63 C342.92,190.64 344,191.83 345.08,192.44 C346.16,193.05 347.78,193.16 348.32,193.3" fill="none" stroke="#e0707c" stroke-width="0.9" stroke-dasharray="1.2,1"/>
<path d="M292.16,192.87 C293.24,192.69 296.48,192.22 298.64,191.79 C300.8,191.36 303.14,191.18 305.12,190.28 C307.1,189.38 309.08,187.94 310.52,186.39 C311.96,184.85 312.86,183.15 313.76,180.99 C314.66,178.83 315.27,176.49 315.92,173.43 C316.57,170.37 317.11,166.59 317.65,162.63 C318.19,158.68 318.65,154 319.16,149.68 C319.66,145.36 320.2,140.68 320.67,136.72 C321.14,132.76 321.61,128.44 321.97,125.92 C322.33,123.4 322.4,122.5 322.83,121.6 C323.26,120.7 323.91,120.59 324.56,120.52 C325.21,120.45 326.18,120.27 326.72,121.17 C327.26,122.07 327.44,123.33 327.8,125.92 C328.16,128.51 328.59,132.76 328.88,136.72 C329.16,140.68 329.24,145 329.52,149.68 C329.81,154.36 330.17,159.76 330.6,164.79 C331.04,169.83 331.68,176.49 332.12,179.91 C332.55,183.33 332.66,183.87 333.2,185.31 C333.74,186.75 333.92,187.47 335.36,188.55 C336.8,189.63 339.68,191 341.84,191.79 C344,192.58 347.24,193.05 348.32,193.3 L348.32,194 L292.16,194 Z" fill="#7884b4"/>
<path d="M292.16,192.87 C293.24,192.69 296.48,192.22 298.64,191.79 C300.8,191.36 303.14,191.18 305.12,190.28 C307.1,189.38 309.08,187.94 310.52,186.39 C311.96,184.85 312.86,183.15 313.76,180.99 C314.66,178.83 315.27,176.49 315.92,173.43 C316.57,170.37 317.11,166.59 317.65,162.63 C318.19,158.68 318.65,154 319.16,149.68 C319.66,145.36 320.2,140.68 320.67,136.72 C321.14,132.76 321.61,128.44 321.97,125.92 C322.33,123.4 322.4,122.5 322.83,121.6 C323.26,120.7 323.91,120.59 324.56,120.52 C325.21,120.45 326.18,120.27 326.72,121.17 C327.26,122.07 327.44,123.33 327.8,125.92 C328.16,128.51 328.59,132.76 328.88,136.72 C329.16,140.68 329.24,145 329.52,149.68 C329.81,154.36 330.17,159.76 330.6,164.79 C331.04,169.83 331.68,176.49 332.12,179.91 C332.55,183.33 332.66,183.87 333.2,185.31 C333.74,186.75 333.92,187.47 335.36,188.55 C336.8,189.63 339.68,191 341.84,191.79 C344,192.58 347.24,193.05 348.32,193.3" fill="none" stroke="#34506e" stroke-width="0.9"/>
<path d="M313.76,193.3 C314.48,192.87 316.71,192.4 318.08,190.71 C319.45,189.02 320.71,185.31 321.97,183.15 C323.23,180.99 324.56,179.19 325.64,177.75 C326.72,176.31 327.72,176.31 328.44,174.51 C329.16,172.71 329.45,169.29 329.96,166.95 C330.46,164.61 330.93,162.63 331.47,160.48 C332.01,158.32 332.73,156.88 333.2,154 C333.66,151.12 333.92,146.8 334.28,143.2 C334.64,139.6 335,134.92 335.36,132.4 C335.72,129.88 335.9,128.08 336.44,128.08 C336.98,128.08 337.98,129.88 338.6,132.4 C339.21,134.92 339.64,139.6 340.11,143.2 C340.58,146.8 340.94,150.4 341.4,154 C341.87,157.6 342.3,161.56 342.92,164.79 C343.53,168.03 344.36,170.55 345.08,173.43 C345.8,176.31 346.34,179.55 347.24,182.07 C348.14,184.59 349.4,186.83 350.48,188.55 C351.56,190.28 352.63,191.65 353.71,192.44 C354.79,193.23 356.41,193.16 356.95,193.3" fill="none" stroke="#a81c3c" stroke-width="1.2"/>
<path d="M291.5,194 L291.5,100 L385,100 L385,194" fill="none" stroke="#333" stroke-width="1.1"/>
<line x1="291" y1="194" x2="385.5" y2="194" stroke="#222" stroke-width="1.2"/>
<line x1="289.2" y1="194" x2="291.5" y2="194" stroke="#333" stroke-width="0.8"/>
<text x="285.2" y="196.5" font-size="7.2" text-anchor="end" fill="#2a2a2a" stroke="#2a2a2a" stroke-width="0.2">0</text>
<line x1="290.3" y1="189.51" x2="291.5" y2="189.51" stroke="#333" stroke-width="0.6"/>
<line x1="290.3" y1="185.02" x2="291.5" y2="185.02" stroke="#333" stroke-width="0.6"/>
<line x1="290.3" y1="180.53" x2="291.5" y2="180.53" stroke="#333" stroke-width="0.6"/>
<line x1="289.2" y1="176.04" x2="291.5" y2="176.04" stroke="#333" stroke-width="0.8"/>
<text x="285.2" y="178.54" font-size="7.2" text-anchor="end" fill="#2a2a2a" stroke="#2a2a2a" stroke-width="0.2">20</text>
<line x1="290.3" y1="171.55" x2="291.5" y2="171.55" stroke="#333" stroke-width="0.6"/>
<line x1="290.3" y1="167.06" x2="291.5" y2="167.06" stroke="#333" stroke-width="0.6"/>
<line x1="290.3" y1="162.57" x2="291.5" y2="162.57" stroke="#333" stroke-width="0.6"/>
<line x1="289.2" y1="158.08" x2="291.5" y2="158.08" stroke="#333" stroke-width="0.8"/>
<text x="285.2" y="160.58" font-size="7.2" text-anchor="end" fill="#2a2a2a" stroke="#2a2a2a" stroke-width="0.2">40</text>
<line x1="290.3" y1="153.59" x2="291.5" y2="153.59" stroke="#333" stroke-width="0.6"/>
<line x1="290.3" y1="149.1" x2="291.5" y2="149.1" stroke="#333" stroke-width="0.6"/>
<line x1="290.3" y1="144.61" x2="291.5" y2="144.61" stroke="#333" stroke-width="0.6"/>
<line x1="289.2" y1="140.12" x2="291.5" y2="140.12" stroke="#333" stroke-width="0.8"/>
<text x="285.2" y="142.62" font-size="7.2" text-anchor="end" fill="#2a2a2a" stroke="#2a2a2a" stroke-width="0.2">60</text>
<line x1="290.3" y1="135.63" x2="291.5" y2="135.63" stroke="#333" stroke-width="0.6"/>
<line x1="290.3" y1="131.14" x2="291.5" y2="131.14" stroke="#333" stroke-width="0.6"/>
<line x1="290.3" y1="126.65" x2="291.5" y2="126.65" stroke="#333" stroke-width="0.6"/>
<line x1="289.2" y1="122.16" x2="291.5" y2="122.16" stroke="#333" stroke-width="0.8"/>
<text x="285.2" y="124.66" font-size="7.2" text-anchor="end" fill="#2a2a2a" stroke="#2a2a2a" stroke-width="0.2">80</text>
<line x1="290.3" y1="117.67" x2="291.5" y2="117.67" stroke="#333" stroke-width="0.6"/>
<line x1="290.3" y1="113.18" x2="291.5" y2="113.18" stroke="#333" stroke-width="0.6"/>
<line x1="290.3" y1="108.69" x2="291.5" y2="108.69" stroke="#333" stroke-width="0.6"/>
<line x1="289.2" y1="104.2" x2="291.5" y2="104.2" stroke="#333" stroke-width="0.8"/>
<text x="285.2" y="106.7" font-size="7.2" text-anchor="end" fill="#2a2a2a" stroke="#2a2a2a" stroke-width="0.2">100</text>
<line x1="291.5" y1="194" x2="291.5" y2="196.3" stroke="#333" stroke-width="0.8"/>
<line x1="299.03" y1="194" x2="299.03" y2="195.3" stroke="#333" stroke-width="0.6"/>
<line x1="303.43" y1="194" x2="303.43" y2="195.3" stroke="#333" stroke-width="0.6"/>
<line x1="306.55" y1="194" x2="306.55" y2="195.3" stroke="#333" stroke-width="0.6"/>
<line x1="308.97" y1="194" x2="308.97" y2="195.3" stroke="#333" stroke-width="0.6"/>
<line x1="310.95" y1="194" x2="310.95" y2="195.3" stroke="#333" stroke-width="0.6"/>
<line x1="312.63" y1="194" x2="312.63" y2="195.3" stroke="#333" stroke-width="0.6"/>
<line x1="314.08" y1="194" x2="314.08" y2="195.3" stroke="#333" stroke-width="0.6"/>
<line x1="315.36" y1="194" x2="315.36" y2="195.3" stroke="#333" stroke-width="0.6"/>
<text x="289.8" y="205.9" font-size="6.7" text-anchor="middle" fill="#2a2a2a" stroke="#2a2a2a" stroke-width="0.2">10</text>
<text x="293.9" y="202.8" font-size="4.3" fill="#2a2a2a">2</text>
<line x1="316.5" y1="194" x2="316.5" y2="196.3" stroke="#333" stroke-width="0.8"/>
<line x1="324.03" y1="194" x2="324.03" y2="195.3" stroke="#333" stroke-width="0.6"/>
<line x1="328.43" y1="194" x2="328.43" y2="195.3" stroke="#333" stroke-width="0.6"/>
<line x1="331.55" y1="194" x2="331.55" y2="195.3" stroke="#333" stroke-width="0.6"/>
<line x1="333.97" y1="194" x2="333.97" y2="195.3" stroke="#333" stroke-width="0.6"/>
<line x1="335.95" y1="194" x2="335.95" y2="195.3" stroke="#333" stroke-width="0.6"/>
<line x1="337.63" y1="194" x2="337.63" y2="195.3" stroke="#333" stroke-width="0.6"/>
<line x1="339.08" y1="194" x2="339.08" y2="195.3" stroke="#333" stroke-width="0.6"/>
<line x1="340.36" y1="194" x2="340.36" y2="195.3" stroke="#333" stroke-width="0.6"/>
<text x="314.8" y="205.9" font-size="6.7" text-anchor="middle" fill="#2a2a2a" stroke="#2a2a2a" stroke-width="0.2">10</text>
<text x="318.9" y="202.8" font-size="4.3" fill="#2a2a2a">3</text>
<line x1="341.5" y1="194" x2="341.5" y2="196.3" stroke="#333" stroke-width="0.8"/>
<line x1="349.03" y1="194" x2="349.03" y2="195.3" stroke="#333" stroke-width="0.6"/>
<line x1="353.43" y1="194" x2="353.43" y2="195.3" stroke="#333" stroke-width="0.6"/>
<line x1="356.55" y1="194" x2="356.55" y2="195.3" stroke="#333" stroke-width="0.6"/>
<line x1="358.97" y1="194" x2="358.97" y2="195.3" stroke="#333" stroke-width="0.6"/>
<line x1="360.95" y1="194" x2="360.95" y2="195.3" stroke="#333" stroke-width="0.6"/>
<line x1="362.63" y1="194" x2="362.63" y2="195.3" stroke="#333" stroke-width="0.6"/>
<line x1="364.08" y1="194" x2="364.08" y2="195.3" stroke="#333" stroke-width="0.6"/>
<line x1="365.36" y1="194" x2="365.36" y2="195.3" stroke="#333" stroke-width="0.6"/>
<text x="339.8" y="205.9" font-size="6.7" text-anchor="middle" fill="#2a2a2a" stroke="#2a2a2a" stroke-width="0.2">10</text>
<text x="343.9" y="202.8" font-size="4.3" fill="#2a2a2a">4</text>
<line x1="366.5" y1="194" x2="366.5" y2="196.3" stroke="#333" stroke-width="0.8"/>
<line x1="374.03" y1="194" x2="374.03" y2="195.3" stroke="#333" stroke-width="0.6"/>
<line x1="378.43" y1="194" x2="378.43" y2="195.3" stroke="#333" stroke-width="0.6"/>
<line x1="381.55" y1="194" x2="381.55" y2="195.3" stroke="#333" stroke-width="0.6"/>
<line x1="383.97" y1="194" x2="383.97" y2="195.3" stroke="#333" stroke-width="0.6"/>
<text x="364.8" y="205.9" font-size="6.7" text-anchor="middle" fill="#2a2a2a" stroke="#2a2a2a" stroke-width="0.2">10</text>
<text x="368.9" y="202.8" font-size="4.3" fill="#2a2a2a">5</text>
<text x="328.75" y="217.8" font-size="8.4" font-weight="bold" fill="#2a2a2a" textLength="19.4" lengthAdjust="spacingAndGlyphs">pSTAT1</text>
<path d="M420.16,193.3 C423.4,193.23 435.28,193.66 439.6,192.87 C443.92,192.08 444.28,190.71 446.08,188.55 C447.88,186.39 449.14,182.79 450.4,179.91 C451.66,177.03 452.74,174.51 453.64,171.27 C454.54,168.03 455.19,164.43 455.8,160.48 C456.41,156.52 456.84,151.84 457.31,147.52 C457.78,143.2 458.21,138.52 458.6,134.56 C459,130.6 459.25,126.1 459.68,123.76 C460.12,121.42 460.69,120.88 461.2,120.52 C461.7,120.16 462.28,120.34 462.71,121.6 C463.14,122.86 463.32,124.48 463.79,128.08 C464.26,131.68 464.94,138.16 465.52,143.2 C466.09,148.24 466.7,153.64 467.24,158.32 C467.78,162.99 468.25,167.67 468.76,171.27 C469.26,174.87 469.73,177.03 470.27,179.91 C470.81,182.79 471.35,186.57 472,188.55 C472.64,190.53 473.08,191 474.16,191.79 C475.24,192.58 477.76,193.05 478.48,193.3 L478.48,194 L420.16,194 Z" fill="#7884b4"/>
<path d="M420.16,193.3 C423.4,193.23 435.28,193.66 439.6,192.87 C443.92,192.08 444.28,190.71 446.08,188.55 C447.88,186.39 449.14,182.79 450.4,179.91 C451.66,177.03 452.74,174.51 453.64,171.27 C454.54,168.03 455.19,164.43 455.8,160.48 C456.41,156.52 456.84,151.84 457.31,147.52 C457.78,143.2 458.21,138.52 458.6,134.56 C459,130.6 459.25,126.1 459.68,123.76 C460.12,121.42 460.69,120.88 461.2,120.52 C461.7,120.16 462.28,120.34 462.71,121.6 C463.14,122.86 463.32,124.48 463.79,128.08 C464.26,131.68 464.94,138.16 465.52,143.2 C466.09,148.24 466.7,153.64 467.24,158.32 C467.78,162.99 468.25,167.67 468.76,171.27 C469.26,174.87 469.73,177.03 470.27,179.91 C470.81,182.79 471.35,186.57 472,188.55 C472.64,190.53 473.08,191 474.16,191.79 C475.24,192.58 477.76,193.05 478.48,193.3" fill="none" stroke="#34506e" stroke-width="0.9"/>
<path d="M446,193.3 C446.67,192.42 448.67,189.88 450,188 C451.33,186.12 452.67,184 454,182 C455.33,180 456.67,177.67 458,176 C459.33,174.33 460.67,172.92 462,172 C463.33,171.08 464.75,171.25 466,170.5 C467.25,169.75 468.42,169.42 469.5,167.5 C470.58,165.58 471.58,162.42 472.5,159 C473.42,155.58 474.28,150.25 475,147 C475.72,143.75 476.22,140.17 476.8,139.5 C477.38,138.83 477.88,140.75 478.5,143 C479.12,145.25 479.75,149.17 480.5,153 C481.25,156.83 482.02,161.67 483,166 C483.98,170.33 485.4,175.33 486.4,179 C487.4,182.67 488.15,185.62 489,188 C489.85,190.38 491.08,192.42 491.5,193.3" fill="none" stroke="#e8808c" stroke-width="0.9" stroke-dasharray="1.2,1"/>
<path d="M420.16,193.3 C423.4,193.23 435.1,193.48 439.6,192.87 C444.1,192.26 445.18,191.07 447.16,189.63 C449.14,188.19 450.4,186.75 451.48,184.23 C452.56,181.71 452.92,178.83 453.64,174.51 C454.36,170.19 455.15,164.25 455.8,158.32 C456.44,152.38 456.98,144.28 457.52,138.88 C458.06,133.48 458.57,128.98 459.04,125.92 C459.5,122.86 459.86,120.52 460.33,120.52 C460.8,120.52 461.41,125.92 461.84,125.92 C462.28,125.92 462.49,119.44 462.92,120.52 C463.36,121.6 463.82,127.54 464.44,132.4 C465.05,137.26 465.88,144.64 466.6,149.68 C467.32,154.72 468.14,159.94 468.76,162.63 C469.37,165.33 469.73,166.23 470.27,165.87 C470.81,165.51 471.53,162.46 472,160.48 C472.46,158.5 472.72,155.36 473.08,154 C473.44,152.63 473.76,151.91 474.16,152.27 C474.55,152.63 475.02,154.07 475.45,156.16 C475.88,158.24 476.24,161.92 476.75,164.79 C477.25,167.67 477.83,170.55 478.48,173.43 C479.12,176.31 479.92,179.55 480.63,182.07 C481.35,184.59 482.07,186.83 482.79,188.55 C483.51,190.28 484.23,191.65 484.95,192.44 C485.67,193.23 486.75,193.16 487.11,193.3" fill="none" stroke="#a81c3c" stroke-width="1.2"/>
<path d="M419.7,194 L419.7,100 L513.5,100 L513.5,194" fill="none" stroke="#333" stroke-width="1.1"/>
<line x1="419.2" y1="194" x2="514" y2="194" stroke="#222" stroke-width="1.2"/>
<line x1="417.4" y1="194" x2="419.7" y2="194" stroke="#333" stroke-width="0.8"/>
<text x="413.8" y="196.5" font-size="7.2" text-anchor="end" fill="#2a2a2a" stroke="#2a2a2a" stroke-width="0.2">0</text>
<line x1="418.5" y1="189.51" x2="419.7" y2="189.51" stroke="#333" stroke-width="0.6"/>
<line x1="418.5" y1="185.02" x2="419.7" y2="185.02" stroke="#333" stroke-width="0.6"/>
<line x1="418.5" y1="180.53" x2="419.7" y2="180.53" stroke="#333" stroke-width="0.6"/>
<line x1="417.4" y1="176.04" x2="419.7" y2="176.04" stroke="#333" stroke-width="0.8"/>
<text x="413.8" y="178.54" font-size="7.2" text-anchor="end" fill="#2a2a2a" stroke="#2a2a2a" stroke-width="0.2">20</text>
<line x1="418.5" y1="171.55" x2="419.7" y2="171.55" stroke="#333" stroke-width="0.6"/>
<line x1="418.5" y1="167.06" x2="419.7" y2="167.06" stroke="#333" stroke-width="0.6"/>
<line x1="418.5" y1="162.57" x2="419.7" y2="162.57" stroke="#333" stroke-width="0.6"/>
<line x1="417.4" y1="158.08" x2="419.7" y2="158.08" stroke="#333" stroke-width="0.8"/>
<text x="413.8" y="160.58" font-size="7.2" text-anchor="end" fill="#2a2a2a" stroke="#2a2a2a" stroke-width="0.2">40</text>
<line x1="418.5" y1="153.59" x2="419.7" y2="153.59" stroke="#333" stroke-width="0.6"/>
<line x1="418.5" y1="149.1" x2="419.7" y2="149.1" stroke="#333" stroke-width="0.6"/>
<line x1="418.5" y1="144.61" x2="419.7" y2="144.61" stroke="#333" stroke-width="0.6"/>
<line x1="417.4" y1="140.12" x2="419.7" y2="140.12" stroke="#333" stroke-width="0.8"/>
<text x="413.8" y="142.62" font-size="7.2" text-anchor="end" fill="#2a2a2a" stroke="#2a2a2a" stroke-width="0.2">60</text>
<line x1="418.5" y1="135.63" x2="419.7" y2="135.63" stroke="#333" stroke-width="0.6"/>
<line x1="418.5" y1="131.14" x2="419.7" y2="131.14" stroke="#333" stroke-width="0.6"/>
<line x1="418.5" y1="126.65" x2="419.7" y2="126.65" stroke="#333" stroke-width="0.6"/>
<line x1="417.4" y1="122.16" x2="419.7" y2="122.16" stroke="#333" stroke-width="0.8"/>
<text x="413.8" y="124.66" font-size="7.2" text-anchor="end" fill="#2a2a2a" stroke="#2a2a2a" stroke-width="0.2">80</text>
<line x1="418.5" y1="117.67" x2="419.7" y2="117.67" stroke="#333" stroke-width="0.6"/>
<line x1="418.5" y1="113.18" x2="419.7" y2="113.18" stroke="#333" stroke-width="0.6"/>
<line x1="418.5" y1="108.69" x2="419.7" y2="108.69" stroke="#333" stroke-width="0.6"/>
<line x1="417.4" y1="104.2" x2="419.7" y2="104.2" stroke="#333" stroke-width="0.8"/>
<text x="413.8" y="106.7" font-size="7.2" text-anchor="end" fill="#2a2a2a" stroke="#2a2a2a" stroke-width="0.2">100</text>
<line x1="419.7" y1="194" x2="419.7" y2="196.3" stroke="#333" stroke-width="0.8"/>
<line x1="427.23" y1="194" x2="427.23" y2="195.3" stroke="#333" stroke-width="0.6"/>
<line x1="431.63" y1="194" x2="431.63" y2="195.3" stroke="#333" stroke-width="0.6"/>
<line x1="434.75" y1="194" x2="434.75" y2="195.3" stroke="#333" stroke-width="0.6"/>
<line x1="437.17" y1="194" x2="437.17" y2="195.3" stroke="#333" stroke-width="0.6"/>
<line x1="439.15" y1="194" x2="439.15" y2="195.3" stroke="#333" stroke-width="0.6"/>
<line x1="440.83" y1="194" x2="440.83" y2="195.3" stroke="#333" stroke-width="0.6"/>
<line x1="442.28" y1="194" x2="442.28" y2="195.3" stroke="#333" stroke-width="0.6"/>
<line x1="443.56" y1="194" x2="443.56" y2="195.3" stroke="#333" stroke-width="0.6"/>
<text x="418" y="205.9" font-size="6.7" text-anchor="middle" fill="#2a2a2a" stroke="#2a2a2a" stroke-width="0.2">10</text>
<text x="422.1" y="202.8" font-size="4.3" fill="#2a2a2a">2</text>
<line x1="444.7" y1="194" x2="444.7" y2="196.3" stroke="#333" stroke-width="0.8"/>
<line x1="452.23" y1="194" x2="452.23" y2="195.3" stroke="#333" stroke-width="0.6"/>
<line x1="456.63" y1="194" x2="456.63" y2="195.3" stroke="#333" stroke-width="0.6"/>
<line x1="459.75" y1="194" x2="459.75" y2="195.3" stroke="#333" stroke-width="0.6"/>
<line x1="462.17" y1="194" x2="462.17" y2="195.3" stroke="#333" stroke-width="0.6"/>
<line x1="464.15" y1="194" x2="464.15" y2="195.3" stroke="#333" stroke-width="0.6"/>
<line x1="465.83" y1="194" x2="465.83" y2="195.3" stroke="#333" stroke-width="0.6"/>
<line x1="467.28" y1="194" x2="467.28" y2="195.3" stroke="#333" stroke-width="0.6"/>
<line x1="468.56" y1="194" x2="468.56" y2="195.3" stroke="#333" stroke-width="0.6"/>
<text x="443" y="205.9" font-size="6.7" text-anchor="middle" fill="#2a2a2a" stroke="#2a2a2a" stroke-width="0.2">10</text>
<text x="447.1" y="202.8" font-size="4.3" fill="#2a2a2a">3</text>
<line x1="469.7" y1="194" x2="469.7" y2="196.3" stroke="#333" stroke-width="0.8"/>
<line x1="477.23" y1="194" x2="477.23" y2="195.3" stroke="#333" stroke-width="0.6"/>
<line x1="481.63" y1="194" x2="481.63" y2="195.3" stroke="#333" stroke-width="0.6"/>
<line x1="484.75" y1="194" x2="484.75" y2="195.3" stroke="#333" stroke-width="0.6"/>
<line x1="487.17" y1="194" x2="487.17" y2="195.3" stroke="#333" stroke-width="0.6"/>
<line x1="489.15" y1="194" x2="489.15" y2="195.3" stroke="#333" stroke-width="0.6"/>
<line x1="490.83" y1="194" x2="490.83" y2="195.3" stroke="#333" stroke-width="0.6"/>
<line x1="492.28" y1="194" x2="492.28" y2="195.3" stroke="#333" stroke-width="0.6"/>
<line x1="493.56" y1="194" x2="493.56" y2="195.3" stroke="#333" stroke-width="0.6"/>
<text x="468" y="205.9" font-size="6.7" text-anchor="middle" fill="#2a2a2a" stroke="#2a2a2a" stroke-width="0.2">10</text>
<text x="472.1" y="202.8" font-size="4.3" fill="#2a2a2a">4</text>
<line x1="494.7" y1="194" x2="494.7" y2="196.3" stroke="#333" stroke-width="0.8"/>
<line x1="502.23" y1="194" x2="502.23" y2="195.3" stroke="#333" stroke-width="0.6"/>
<line x1="506.63" y1="194" x2="506.63" y2="195.3" stroke="#333" stroke-width="0.6"/>
<line x1="509.75" y1="194" x2="509.75" y2="195.3" stroke="#333" stroke-width="0.6"/>
<line x1="512.17" y1="194" x2="512.17" y2="195.3" stroke="#333" stroke-width="0.6"/>
<text x="493" y="205.9" font-size="6.7" text-anchor="middle" fill="#2a2a2a" stroke="#2a2a2a" stroke-width="0.2">10</text>
<text x="497.1" y="202.8" font-size="4.3" fill="#2a2a2a">5</text>
<text x="456.5" y="217.8" font-size="8.4" font-weight="bold" fill="#2a2a2a" textLength="19.4" lengthAdjust="spacingAndGlyphs">pSTAT3</text>
<text x="267.4" y="156.3" font-size="8.6" font-weight="bold" fill="#2a2a2a" textLength="18.7" lengthAdjust="spacingAndGlyphs" transform="rotate(-90 267.4 156.3)">Counts</text>
<text x="6.8" y="303.9" font-size="10.4" font-weight="bold" fill="#111" stroke="#111" stroke-width="0.3">B</text>
<line x1="51" y1="338.8" x2="51" y2="427.7" stroke="#222" stroke-width="1.1"/>
<line x1="50.5" y1="427.5" x2="137" y2="427.5" stroke="#222" stroke-width="1.1"/>
<line x1="48.5" y1="427.2" x2="51" y2="427.2" stroke="#222" stroke-width="0.9"/>
<text x="45.2" y="429.6" font-size="7.8" text-anchor="end" fill="#2a2a2a" stroke="#2a2a2a" stroke-width="0.2">0</text>
<line x1="48.5" y1="406" x2="51" y2="406" stroke="#222" stroke-width="0.9"/>
<text x="45.2" y="408.4" font-size="7.8" text-anchor="end" fill="#2a2a2a" stroke="#2a2a2a" stroke-width="0.2">2000</text>
<line x1="48.5" y1="384.8" x2="51" y2="384.8" stroke="#222" stroke-width="0.9"/>
<text x="45.2" y="387.2" font-size="7.8" text-anchor="end" fill="#2a2a2a" stroke="#2a2a2a" stroke-width="0.2">4000</text>
<line x1="48.5" y1="363.6" x2="51" y2="363.6" stroke="#222" stroke-width="0.9"/>
<text x="45.2" y="366" font-size="7.8" text-anchor="end" fill="#2a2a2a" stroke="#2a2a2a" stroke-width="0.2">6000</text>
<line x1="48.5" y1="342.4" x2="51" y2="342.4" stroke="#222" stroke-width="0.9"/>
<text x="45.2" y="344.8" font-size="7.8" text-anchor="end" fill="#2a2a2a" stroke="#2a2a2a" stroke-width="0.2">8000</text>
<text x="22" y="408.9" font-size="8.5" font-weight="bold" fill="#2a2a2a" textLength="51.8" lengthAdjust="spacingAndGlyphs" transform="rotate(-90 22 408.9)">IL-27Rα delta MFI</text>
<rect x="57.6" y="422.2" width="13.3" height="5" fill="#dc5c55"/>
<rect x="77.1" y="379.5" width="13.6" height="47.7" fill="#dc5c55"/>
<rect x="97.1" y="414.8" width="13.6" height="12.4" fill="#dc5c55"/>
<rect x="117.3" y="417.8" width="13.2" height="9.4" fill="#dc5c55"/>
<line x1="64.3" y1="417.8" x2="64.3" y2="427" stroke="#333" stroke-width="0.9"/>
<line x1="61.3" y1="417.8" x2="67.3" y2="417.8" stroke="#333" stroke-width="0.9"/>
<line x1="83.9" y1="356.5" x2="83.9" y2="427" stroke="#333" stroke-width="0.9"/>
<line x1="80.9" y1="356.5" x2="86.9" y2="356.5" stroke="#333" stroke-width="0.9"/>
<line x1="103.9" y1="404.5" x2="103.9" y2="427" stroke="#333" stroke-width="0.9"/>
<line x1="100.9" y1="404.5" x2="106.9" y2="404.5" stroke="#333" stroke-width="0.9"/>
<line x1="123.7" y1="414.2" x2="123.7" y2="427" stroke="#333" stroke-width="0.9"/>
<line x1="120.7" y1="414.2" x2="126.7" y2="414.2" stroke="#333" stroke-width="0.9"/>
<circle cx="61.5" cy="415.5" r="2.2" fill="#b3102a"/>
<circle cx="66.8" cy="417.5" r="2.2" fill="#b3102a"/>
<circle cx="59.7" cy="424" r="2.2" fill="#b3102a"/>
<circle cx="64.5" cy="425.5" r="2.2" fill="#b3102a"/>
<circle cx="68.5" cy="424" r="2.2" fill="#b3102a"/>
<circle cx="81.5" cy="357.9" r="2.2" fill="#b3102a"/>
<circle cx="86.4" cy="352.6" r="2.2" fill="#b3102a"/>
<circle cx="81.5" cy="389" r="2.2" fill="#b3102a"/>
<circle cx="86.4" cy="391" r="2.2" fill="#b3102a"/>
<circle cx="83.9" cy="403.2" r="2.2" fill="#b3102a"/>
<circle cx="101.4" cy="405.7" r="2.2" fill="#b3102a"/>
<circle cx="106.4" cy="402.2" r="2.2" fill="#b3102a"/>
<circle cx="104.3" cy="416.8" r="2.2" fill="#b3102a"/>
<circle cx="101.4" cy="423.6" r="2.2" fill="#b3102a"/>
<circle cx="106.8" cy="423.6" r="2.2" fill="#b3102a"/>
<circle cx="123.8" cy="412.3" r="2.2" fill="#b3102a"/>
<circle cx="119.2" cy="418.5" r="2.2" fill="#b3102a"/>
<circle cx="127.7" cy="417.3" r="2.2" fill="#b3102a"/>
<circle cx="123.1" cy="423" r="2.2" fill="#b3102a"/>
<circle cx="123.8" cy="425.4" r="2.2" fill="#b3102a"/>
<line x1="64.2" y1="427.5" x2="64.2" y2="429.5" stroke="#222" stroke-width="0.8"/>
<text x="64.2" y="439.6" font-size="7" text-anchor="middle" fill="#2a2a2a" stroke="#2a2a2a" stroke-width="0.2">0</text>
<line x1="84" y1="427.5" x2="84" y2="429.5" stroke="#222" stroke-width="0.8"/>
<text x="84" y="439.6" font-size="7" text-anchor="middle" fill="#2a2a2a" stroke="#2a2a2a" stroke-width="0.2">3</text>
<line x1="103.8" y1="427.5" x2="103.8" y2="429.5" stroke="#222" stroke-width="0.8"/>
<text x="103.8" y="439.6" font-size="7" text-anchor="middle" fill="#2a2a2a" stroke="#2a2a2a" stroke-width="0.2">6</text>
<line x1="123.6" y1="427.5" x2="123.6" y2="429.5" stroke="#222" stroke-width="0.8"/>
<text x="123.6" y="439.6" font-size="7" text-anchor="middle" fill="#2a2a2a" stroke="#2a2a2a" stroke-width="0.2">13</text>
<line x1="61.5" y1="328" x2="89.6" y2="328" stroke="#666" stroke-width="1"/>
<line x1="93.2" y1="328" x2="121.6" y2="328" stroke="#666" stroke-width="1"/>
<line x1="61.5" y1="335.4" x2="89.6" y2="335.4" stroke="#666" stroke-width="1"/>
<line x1="93.2" y1="335.4" x2="121.6" y2="335.4" stroke="#666" stroke-width="1"/>
<line x1="61.5" y1="343.2" x2="77.4" y2="343.2" stroke="#666" stroke-width="1"/>
<line x1="83.1" y1="343.2" x2="99.7" y2="343.2" stroke="#666" stroke-width="1"/>
<line x1="104.8" y1="343.2" x2="121.6" y2="343.2" stroke="#666" stroke-width="1"/>
<text x="75.5" y="325.9" font-size="7.2" text-anchor="middle" fill="#3a3a3a" stroke="#3a3a3a" stroke-width="0.15">ns</text>
<text x="107.3" y="325.9" font-size="7.2" text-anchor="middle" fill="#3a3a3a" stroke="#3a3a3a" stroke-width="0.15">ns</text>
<text x="75.5" y="333.4" font-size="7.2" text-anchor="middle" fill="#3a3a3a" stroke="#3a3a3a" stroke-width="0.15">ns</text>
<circle cx="104.5" cy="331.4" r="0.85" fill="#222"/>
<circle cx="107.3" cy="331.4" r="0.85" fill="#222"/>
<circle cx="110.1" cy="331.4" r="0.85" fill="#222"/>
<circle cx="66.7" cy="339.2" r="0.85" fill="#222"/>
<circle cx="69.5" cy="339.2" r="0.85" fill="#222"/>
<circle cx="72.3" cy="339.2" r="0.85" fill="#222"/>
<circle cx="90.1" cy="339.2" r="0.85" fill="#222"/>
<circle cx="92.9" cy="339.2" r="0.85" fill="#222"/>
<text x="113.2" y="340.7" font-size="7.2" text-anchor="middle" fill="#3a3a3a" stroke="#3a3a3a" stroke-width="0.15">ns</text>
<line x1="193.2" y1="340.5" x2="193.2" y2="380.7" stroke="#222" stroke-width="1.1"/>
<line x1="193.2" y1="388.3" x2="193.2" y2="427.7" stroke="#222" stroke-width="1.1"/>
<line x1="191.5" y1="380.7" x2="195" y2="380.7" stroke="#222" stroke-width="0.9"/>
<line x1="191.5" y1="388.3" x2="195" y2="388.3" stroke="#222" stroke-width="0.9"/>
<line x1="192.7" y1="427.2" x2="276.4" y2="427.2" stroke="#222" stroke-width="1.1"/>
<line x1="190.8" y1="372.2" x2="193.2" y2="372.2" stroke="#222" stroke-width="0.9"/>
<text x="187" y="374.6" font-size="7.8" text-anchor="end" fill="#2a2a2a" stroke="#2a2a2a" stroke-width="0.2">5000</text>
<line x1="190.8" y1="357.3" x2="193.2" y2="357.3" stroke="#222" stroke-width="0.9"/>
<text x="187" y="359.7" font-size="7.8" text-anchor="end" fill="#2a2a2a" stroke="#2a2a2a" stroke-width="0.2">10000</text>
<line x1="190.8" y1="342.4" x2="193.2" y2="342.4" stroke="#222" stroke-width="0.9"/>
<text x="187" y="344.8" font-size="7.8" text-anchor="end" fill="#2a2a2a" stroke="#2a2a2a" stroke-width="0.2">15000</text>
<line x1="190.8" y1="427.2" x2="193.2" y2="427.2" stroke="#222" stroke-width="0.9"/>
<text x="187" y="429.6" font-size="7.8" text-anchor="end" fill="#2a2a2a" stroke="#2a2a2a" stroke-width="0.2">0</text>
<line x1="190.8" y1="417.35" x2="193.2" y2="417.35" stroke="#222" stroke-width="0.9"/>
<text x="187" y="419.75" font-size="7.8" text-anchor="end" fill="#2a2a2a" stroke="#2a2a2a" stroke-width="0.2">500</text>
<line x1="190.8" y1="407.5" x2="193.2" y2="407.5" stroke="#222" stroke-width="0.9"/>
<text x="187" y="409.9" font-size="7.8" text-anchor="end" fill="#2a2a2a" stroke="#2a2a2a" stroke-width="0.2">1000</text>
<line x1="190.8" y1="397.65" x2="193.2" y2="397.65" stroke="#222" stroke-width="0.9"/>
<text x="187" y="400.05" font-size="7.8" text-anchor="end" fill="#2a2a2a" stroke="#2a2a2a" stroke-width="0.2">1500</text>
<line x1="190.8" y1="387.8" x2="193.2" y2="387.8" stroke="#222" stroke-width="0.9"/>
<text x="187" y="390.2" font-size="7.8" text-anchor="end" fill="#2a2a2a" stroke="#2a2a2a" stroke-width="0.2">2000</text>
<text x="159" y="407.5" font-size="8.5" font-weight="bold" fill="#2a2a2a" textLength="45.4" lengthAdjust="spacingAndGlyphs" transform="rotate(-90 159 407.5)">JAM2 delta MFI</text>
<rect x="199" y="421.1" width="13.6" height="6.1" fill="#7886b2"/>
<rect x="219.1" y="372.1" width="12.9" height="8.6" fill="#7886b2"/>
<rect x="219.1" y="388.3" width="12.9" height="38.9" fill="#7886b2"/>
<rect x="238.5" y="416.3" width="13.4" height="10.9" fill="#7886b2"/>
<rect x="258.4" y="417.4" width="13.4" height="9.8" fill="#7886b2"/>
<line x1="205.6" y1="414.2" x2="205.6" y2="427" stroke="#333" stroke-width="0.9"/>
<line x1="202.6" y1="414.2" x2="208.6" y2="414.2" stroke="#333" stroke-width="0.9"/>
<line x1="225.5" y1="362.4" x2="225.5" y2="380.7" stroke="#333" stroke-width="0.9"/>
<line x1="222.5" y1="362.4" x2="228.5" y2="362.4" stroke="#333" stroke-width="0.9"/>
<line x1="245.2" y1="404.8" x2="245.2" y2="427" stroke="#333" stroke-width="0.9"/>
<line x1="242.2" y1="404.8" x2="248.2" y2="404.8" stroke="#333" stroke-width="0.9"/>
<line x1="265.2" y1="406" x2="265.2" y2="427" stroke="#333" stroke-width="0.9"/>
<line x1="262.2" y1="406" x2="268.2" y2="406" stroke="#333" stroke-width="0.9"/>
<circle cx="205.5" cy="410.3" r="2.2" fill="#1b3f75"/>
<circle cx="205.5" cy="417.4" r="2.2" fill="#1b3f75"/>
<circle cx="201.2" cy="423.2" r="2.2" fill="#1b3f75"/>
<circle cx="209.8" cy="423.2" r="2.2" fill="#1b3f75"/>
<circle cx="225.4" cy="357" r="2.2" fill="#1b3f75"/>
<circle cx="225.4" cy="370" r="2.2" fill="#1b3f75"/>
<circle cx="220.6" cy="373.2" r="2.2" fill="#1b3f75"/>
<circle cx="229.7" cy="373.2" r="2.2" fill="#1b3f75"/>
<circle cx="226" cy="377.9" r="2.2" fill="#1b3f75"/>
<circle cx="242.2" cy="404.5" r="2.2" fill="#1b3f75"/>
<circle cx="248" cy="405.1" r="2.2" fill="#1b3f75"/>
<circle cx="242.2" cy="420.2" r="2.2" fill="#1b3f75"/>
<circle cx="245.4" cy="424.5" r="2.2" fill="#1b3f75"/>
<circle cx="248.5" cy="421" r="2.2" fill="#1b3f75"/>
<circle cx="262.7" cy="405.5" r="2.2" fill="#1b3f75"/>
<circle cx="268.1" cy="404.5" r="2.2" fill="#1b3f75"/>
<circle cx="265.3" cy="418.9" r="2.2" fill="#1b3f75"/>
<circle cx="262.7" cy="426.7" r="2.2" fill="#1b3f75"/>
<circle cx="268.1" cy="426.7" r="2.2" fill="#1b3f75"/>
<line x1="205.9" y1="427.2" x2="205.9" y2="429.2" stroke="#222" stroke-width="0.8"/>
<text x="205.9" y="439.6" font-size="7" text-anchor="middle" fill="#2a2a2a" stroke="#2a2a2a" stroke-width="0.2">0</text>
<line x1="225.7" y1="427.2" x2="225.7" y2="429.2" stroke="#222" stroke-width="0.8"/>
<text x="225.7" y="439.6" font-size="7" text-anchor="middle" fill="#2a2a2a" stroke="#2a2a2a" stroke-width="0.2">3</text>
<line x1="245.5" y1="427.2" x2="245.5" y2="429.2" stroke="#222" stroke-width="0.8"/>
<text x="245.5" y="439.6" font-size="7" text-anchor="middle" fill="#2a2a2a" stroke="#2a2a2a" stroke-width="0.2">6</text>
<line x1="265.3" y1="427.2" x2="265.3" y2="429.2" stroke="#222" stroke-width="0.8"/>
<text x="265.3" y="439.6" font-size="7" text-anchor="middle" fill="#2a2a2a" stroke="#2a2a2a" stroke-width="0.2">13</text>
<line x1="201.9" y1="327.9" x2="229.6" y2="327.9" stroke="#666" stroke-width="1"/>
<line x1="234.2" y1="327.9" x2="262.7" y2="327.9" stroke="#666" stroke-width="1"/>
<line x1="201.9" y1="335.3" x2="229.6" y2="335.3" stroke="#666" stroke-width="1"/>
<line x1="234.2" y1="335.3" x2="262.7" y2="335.3" stroke="#666" stroke-width="1"/>
<line x1="201.9" y1="343.1" x2="218" y2="343.1" stroke="#666" stroke-width="1"/>
<line x1="224.2" y1="343.1" x2="240.4" y2="343.1" stroke="#666" stroke-width="1"/>
<line x1="245.8" y1="343.1" x2="262.7" y2="343.1" stroke="#666" stroke-width="1"/>
<text x="215.8" y="325.8" font-size="7.2" text-anchor="middle" fill="#3a3a3a" stroke="#3a3a3a" stroke-width="0.15">ns</text>
<text x="248.1" y="325.8" font-size="7.2" text-anchor="middle" fill="#3a3a3a" stroke="#3a3a3a" stroke-width="0.15">ns</text>
<text x="215.8" y="333.3" font-size="7.2" text-anchor="middle" fill="#3a3a3a" stroke="#3a3a3a" stroke-width="0.15">ns</text>
<circle cx="245.3" cy="331.3" r="0.85" fill="#222"/>
<circle cx="248.1" cy="331.3" r="0.85" fill="#222"/>
<circle cx="250.9" cy="331.3" r="0.85" fill="#222"/>
<circle cx="207.4" cy="339.1" r="0.85" fill="#222"/>
<circle cx="210.2" cy="339.1" r="0.85" fill="#222"/>
<circle cx="213" cy="339.1" r="0.85" fill="#222"/>
<circle cx="229.6" cy="339.1" r="0.85" fill="#222"/>
<circle cx="232.4" cy="339.1" r="0.85" fill="#222"/>
<circle cx="235.2" cy="339.1" r="0.85" fill="#222"/>
<text x="254.2" y="340.6" font-size="7.2" text-anchor="middle" fill="#3a3a3a" stroke="#3a3a3a" stroke-width="0.15">ns</text>
<text x="293" y="303.8" font-size="10.4" font-weight="bold" fill="#111" stroke="#111" stroke-width="0.3">D</text>
<line x1="337.6" y1="310" x2="337.6" y2="427.4" stroke="#222" stroke-width="1.1"/>
<line x1="335.6" y1="427.2" x2="397.6" y2="427.2" stroke="#222" stroke-width="1.1"/>
<line x1="335.1" y1="427.4" x2="337.6" y2="427.4" stroke="#222" stroke-width="0.9"/>
<text x="331.8" y="429.8" font-size="7.8" text-anchor="end" fill="#2a2a2a" stroke="#2a2a2a" stroke-width="0.2">0</text>
<line x1="335.1" y1="398.28" x2="337.6" y2="398.28" stroke="#222" stroke-width="0.9"/>
<text x="331.8" y="400.68" font-size="7.8" text-anchor="end" fill="#2a2a2a" stroke="#2a2a2a" stroke-width="0.2">2000</text>
<line x1="335.1" y1="369.16" x2="337.6" y2="369.16" stroke="#222" stroke-width="0.9"/>
<text x="331.8" y="371.56" font-size="7.8" text-anchor="end" fill="#2a2a2a" stroke="#2a2a2a" stroke-width="0.2">4000</text>
<line x1="335.1" y1="340.04" x2="337.6" y2="340.04" stroke="#222" stroke-width="0.9"/>
<text x="331.8" y="342.44" font-size="7.8" text-anchor="end" fill="#2a2a2a" stroke="#2a2a2a" stroke-width="0.2">6000</text>
<line x1="335.1" y1="310.92" x2="337.6" y2="310.92" stroke="#222" stroke-width="0.9"/>
<text x="331.8" y="313.32" font-size="7.8" text-anchor="end" fill="#2a2a2a" stroke="#2a2a2a" stroke-width="0.2">8000</text>
<rect x="343.4" y="384.3" width="12.3" height="42.9" fill="#7886b4"/>
<rect x="361.5" y="388.5" width="12.3" height="38.7" fill="#eeaba2"/>
<rect x="379.6" y="332.2" width="12.4" height="95" fill="#dc5a52"/>
<circle cx="349.5" cy="371.3" r="2.5" fill="#1b3f75"/>
<circle cx="349.5" cy="395.9" r="2.5" fill="#1b3f75"/>
<circle cx="367.7" cy="383.4" r="2.5" fill="#b3102a"/>
<circle cx="367.7" cy="391.5" r="2.5" fill="#b3102a"/>
<circle cx="385.7" cy="326.3" r="2.5" fill="#b3102a"/>
<circle cx="385.7" cy="335.6" r="2.5" fill="#b3102a"/>
<line x1="349.5" y1="366.5" x2="349.5" y2="400.8" stroke="#333" stroke-width="1"/>
<line x1="346.5" y1="366.5" x2="352.5" y2="366.5" stroke="#333" stroke-width="1.1"/>
<line x1="346.5" y1="400.8" x2="352.5" y2="400.8" stroke="#333" stroke-width="1.1"/>
<line x1="367.7" y1="381.4" x2="367.7" y2="393.8" stroke="#333" stroke-width="1"/>
<line x1="364.7" y1="381.4" x2="370.7" y2="381.4" stroke="#333" stroke-width="1.1"/>
<line x1="364.7" y1="393.8" x2="370.7" y2="393.8" stroke="#333" stroke-width="1.1"/>
<line x1="385.7" y1="324" x2="385.7" y2="337.9" stroke="#333" stroke-width="1"/>
<line x1="382.7" y1="324" x2="388.7" y2="324" stroke="#333" stroke-width="1.1"/>
<line x1="382.7" y1="337.9" x2="388.7" y2="337.9" stroke="#333" stroke-width="1.1"/>
<line x1="349.55" y1="427.2" x2="349.55" y2="429.4" stroke="#222" stroke-width="0.8"/>
<text x="351.75" y="432.8" font-size="7.3" text-anchor="end" fill="#2a2a2a" textLength="23.4" lengthAdjust="spacingAndGlyphs" transform="rotate(-90 351.75 432.8)" stroke="#2a2a2a" stroke-width="0.2">no stim</text>
<line x1="367.65" y1="427.2" x2="367.65" y2="429.4" stroke="#222" stroke-width="0.8"/>
<text x="370.15" y="434.8" font-size="7.1" text-anchor="end" fill="#2a2a2a" textLength="12.9" lengthAdjust="spacingAndGlyphs" transform="rotate(-90 370.15 434.8)" stroke="#2a2a2a" stroke-width="0.2">IL21</text>
<line x1="385.8" y1="427.2" x2="385.8" y2="429.4" stroke="#222" stroke-width="0.8"/>
<text x="388.3" y="434.8" font-size="7.1" text-anchor="end" fill="#2a2a2a" textLength="12.9" lengthAdjust="spacingAndGlyphs" transform="rotate(-90 388.3 434.8)" stroke="#2a2a2a" stroke-width="0.2">IL27</text>
<text x="308.3" y="387.3" font-size="8.5" font-weight="bold" fill="#2a2a2a" textLength="38.4" lengthAdjust="spacingAndGlyphs" transform="rotate(-90 308.3 387.3)">pSTAT1 (MFI)</text>
<line x1="453.1" y1="310" x2="453.1" y2="427.4" stroke="#222" stroke-width="1.1"/>
<line x1="451.1" y1="427.2" x2="513.1" y2="427.2" stroke="#222" stroke-width="1.1"/>
<line x1="450.6" y1="427.4" x2="453.1" y2="427.4" stroke="#222" stroke-width="0.9"/>
<text x="448" y="429.8" font-size="7.8" text-anchor="end" fill="#2a2a2a" stroke="#2a2a2a" stroke-width="0.2">0</text>
<line x1="450.6" y1="398.28" x2="453.1" y2="398.28" stroke="#222" stroke-width="0.9"/>
<text x="448" y="400.68" font-size="7.8" text-anchor="end" fill="#2a2a2a" stroke="#2a2a2a" stroke-width="0.2">5000</text>
<line x1="450.6" y1="369.16" x2="453.1" y2="369.16" stroke="#222" stroke-width="0.9"/>
<text x="448" y="371.56" font-size="7.8" text-anchor="end" fill="#2a2a2a" stroke="#2a2a2a" stroke-width="0.2">10000</text>
<line x1="450.6" y1="340.04" x2="453.1" y2="340.04" stroke="#222" stroke-width="0.9"/>
<text x="448" y="342.44" font-size="7.8" text-anchor="end" fill="#2a2a2a" stroke="#2a2a2a" stroke-width="0.2">15000</text>
<line x1="450.6" y1="310.92" x2="453.1" y2="310.92" stroke="#222" stroke-width="0.9"/>
<text x="448" y="313.32" font-size="7.8" text-anchor="end" fill="#2a2a2a" stroke="#2a2a2a" stroke-width="0.2">20000</text>
<rect x="459.1" y="401.9" width="12.2" height="25.3" fill="#7886b4"/>
<rect x="477.2" y="350.5" width="12.2" height="76.7" fill="#eeaba2"/>
<rect x="495.4" y="380.4" width="12.2" height="46.8" fill="#dc5a52"/>
<circle cx="465.1" cy="395.6" r="2.5" fill="#1b3f75"/>
<circle cx="465.1" cy="404.2" r="2.5" fill="#1b3f75"/>
<circle cx="483.2" cy="335.1" r="2.5" fill="#b3102a"/>
<circle cx="483.2" cy="363.4" r="2.5" fill="#b3102a"/>
<circle cx="498.1" cy="380.3" r="2.5" fill="#b3102a"/>
<circle cx="504.5" cy="377" r="2.5" fill="#b3102a"/>
<line x1="465.1" y1="393.4" x2="465.1" y2="406.4" stroke="#333" stroke-width="1"/>
<line x1="462.1" y1="393.4" x2="468.1" y2="393.4" stroke="#333" stroke-width="1.1"/>
<line x1="462.1" y1="406.4" x2="468.1" y2="406.4" stroke="#333" stroke-width="1.1"/>
<line x1="483.2" y1="329.4" x2="483.2" y2="369.3" stroke="#333" stroke-width="1"/>
<line x1="480.2" y1="329.4" x2="486.2" y2="329.4" stroke="#333" stroke-width="1.1"/>
<line x1="480.2" y1="369.3" x2="486.2" y2="369.3" stroke="#333" stroke-width="1.1"/>
<line x1="502.8" y1="376.6" x2="502.8" y2="382.6" stroke="#333" stroke-width="1"/>
<line x1="499.8" y1="376.6" x2="505.8" y2="376.6" stroke="#333" stroke-width="1.1"/>
<line x1="465.2" y1="427.2" x2="465.2" y2="429.4" stroke="#222" stroke-width="0.8"/>
<text x="467.4" y="432.8" font-size="7.3" text-anchor="end" fill="#2a2a2a" textLength="23.4" lengthAdjust="spacingAndGlyphs" transform="rotate(-90 467.4 432.8)" stroke="#2a2a2a" stroke-width="0.2">no stim</text>
<line x1="483.3" y1="427.2" x2="483.3" y2="429.4" stroke="#222" stroke-width="0.8"/>
<text x="485.8" y="434.8" font-size="7.1" text-anchor="end" fill="#2a2a2a" textLength="12.9" lengthAdjust="spacingAndGlyphs" transform="rotate(-90 485.8 434.8)" stroke="#2a2a2a" stroke-width="0.2">IL21</text>
<line x1="501.5" y1="427.2" x2="501.5" y2="429.4" stroke="#222" stroke-width="0.8"/>
<text x="504" y="434.8" font-size="7.1" text-anchor="end" fill="#2a2a2a" textLength="12.9" lengthAdjust="spacingAndGlyphs" transform="rotate(-90 504 434.8)" stroke="#2a2a2a" stroke-width="0.2">IL27</text>
<text x="420" y="387.3" font-size="8.5" font-weight="bold" fill="#2a2a2a" textLength="37.9" lengthAdjust="spacingAndGlyphs" transform="rotate(-90 420 387.3)">pSTAT3 (MFI)</text>
<rect x="0.5" y="0.5" width="519" height="462" fill="none" stroke="#4a4a4a" stroke-width="1"/>
</svg>
</body></html>
